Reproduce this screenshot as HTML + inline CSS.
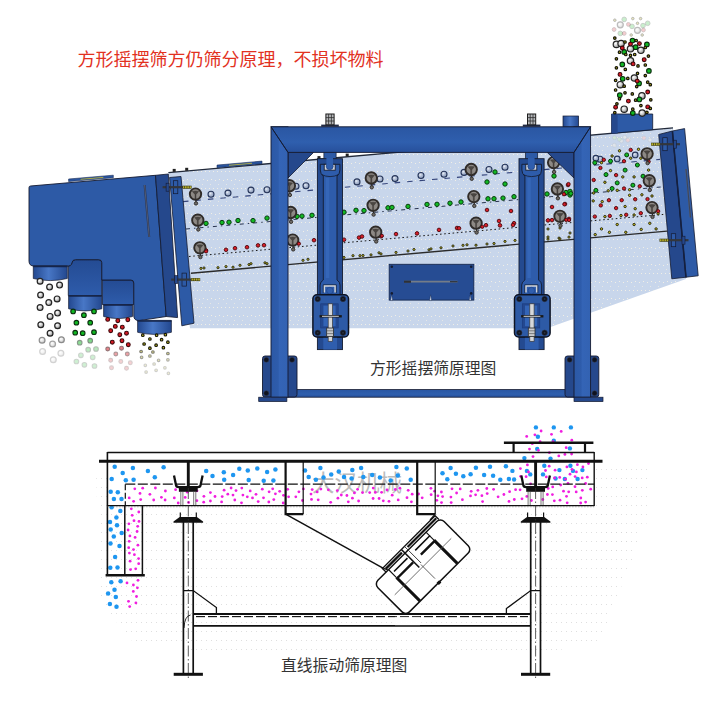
<!DOCTYPE html>
<html><head><meta charset="utf-8"><title>Screen principle diagram</title>
<style>html,body{margin:0;padding:0;background:#fff;font-family:"Liberation Sans",sans-serif;}svg{display:block}</style>
</head><body>
<svg width="718" height="704" viewBox="0 0 718 704">
<defs>
<linearGradient id="cyl" x1="0" x2="1" y1="0" y2="0"><stop offset="0" stop-color="#23488f"/><stop offset="0.45" stop-color="#4877c6"/><stop offset="1" stop-color="#23488f"/></linearGradient>
<linearGradient id="boxg" x1="0" x2="0" y1="0" y2="1"><stop offset="0" stop-color="#244b93"/><stop offset="1" stop-color="#2e5cab"/></linearGradient>
<linearGradient id="post" x1="0" x2="1" y1="0" y2="0"><stop offset="0" stop-color="#2c59a6"/><stop offset="0.42" stop-color="#2e5cab"/><stop offset="0.5" stop-color="#3464b6"/><stop offset="1" stop-color="#3362b2"/></linearGradient>
<linearGradient id="beam" x1="0" x2="0" y1="0" y2="1"><stop offset="0" stop-color="#2a56a2"/><stop offset="0.6" stop-color="#2f5fae"/><stop offset="1" stop-color="#27509b"/></linearGradient>
<linearGradient id="hang" x1="0" x2="1" y1="0" y2="0"><stop offset="0" stop-color="#244a90"/><stop offset="0.22" stop-color="#244a90"/><stop offset="0.25" stop-color="#3263b4"/><stop offset="0.78" stop-color="#2d5aa6"/><stop offset="0.8" stop-color="#244a90"/><stop offset="1" stop-color="#244a90"/></linearGradient>
<radialGradient id="gball" cx="0.38" cy="0.36" r="0.75"><stop offset="0" stop-color="#e9eef6"/><stop offset="0.35" stop-color="#b6c2d8"/><stop offset="1" stop-color="#8292b2"/></radialGradient>
<radialGradient id="wball" cx="0.38" cy="0.36" r="0.75"><stop offset="0" stop-color="#ffffff"/><stop offset="0.45" stop-color="#cfcfcf"/><stop offset="1" stop-color="#6e6e6e"/></radialGradient>
<pattern id="dots" width="8" height="17" patternUnits="userSpaceOnUse"><rect x="1" y="1" width="1" height="1" fill="#f1efe6"/><rect x="5" y="1" width="1" height="1" fill="#f1efe6"/><rect x="3" y="9" width="1" height="1" fill="#f1efe6"/><rect x="7" y="10" width="1" height="1" fill="#f1efe6"/><rect x="2" y="14" width="1" height="1" fill="#f1efe6" opacity="0.7"/></pattern>
<pattern id="gdots" width="5" height="9" patternUnits="userSpaceOnUse"><rect x="1" y="1" width="1" height="1" fill="#d4d4d4"/></pattern>
<linearGradient id="fade" x1="0" x2="0" y1="0" y2="1"><stop offset="0" stop-color="#fff" stop-opacity="0"/><stop offset="1" stop-color="#fff" stop-opacity="1"/></linearGradient>
</defs>
<title>方形摇摆筛原理图 / 直线振动筛原理图</title>
<desc>方形摇摆筛方仍筛分原理，不损坏物料。方形摇摆筛原理图。直线振动筛原理图。大汉机械</desc>
<rect width="718" height="704" fill="#fff"/>
<text x="77.5" y="66" font-size="18" fill="#e2321f" font-family="&quot;Liberation Sans&quot;, &quot;Noto Sans CJK SC&quot;, sans-serif">方形摇摆筛方仍筛分原理，不损坏物料</text>
<text x="370" y="374" font-size="15.8" fill="#333" font-family="&quot;Liberation Sans&quot;, &quot;Noto Sans CJK SC&quot;, sans-serif">方形摇摆筛原理图</text>
<text x="281" y="671" font-size="15.8" fill="#333" font-family="&quot;Liberation Sans&quot;, &quot;Noto Sans CJK SC&quot;, sans-serif">直线振动筛原理图</text>
<polygon points="168.4,172.6 673.0,127.9 686.0,279.0 547.0,328.2 190.0,328.2" fill="#c8d6eb"/>
<polygon points="168.4,172.6 673.0,127.9 686.0,279.0 547.0,328.2 190.0,328.2" fill="url(#dots)"/>
<line x1="168.4" y1="172.6" x2="673" y2="127.9" stroke="#222a3a" stroke-width="1.3"/>
<polygon points="217,167.7 262,163.7 262,161.1 217,165.1" fill="#2a55a0" stroke="#1a2c55" stroke-width="0.6"/>
<line x1="229" y1="165.3" x2="252" y2="163.3" stroke="#b9b13a" stroke-width="0.9"/>
<rect x="172.7" y="168.9" width="3" height="3" fill="#222"/>
<rect x="185.2" y="167.8" width="3" height="3" fill="#222"/>
<rect x="317.5" y="156.1" width="3" height="3" fill="#222"/>
<rect x="345.7" y="153.6" width="3" height="3" fill="#222"/>
<rect x="518.5" y="138.3" width="3" height="3" fill="#222"/>
<rect x="546.5" y="135.8" width="3" height="3" fill="#222"/>
<line x1="183" y1="201.6" x2="660" y2="159.4" stroke="#34447a" stroke-width="1.1" stroke-dasharray="5.5 7"/>
<line x1="186" y1="229.0" x2="663" y2="186.8" stroke="#2a3550" stroke-width="1" stroke-dasharray="4 4 1.5 4"/>
<line x1="189" y1="256.5" x2="665" y2="214.3" stroke="#1a1a1a" stroke-width="1" stroke-dasharray="1.6 2.6"/>
<line x1="190.9" y1="273.2" x2="667" y2="231.1" stroke="#2b2b2b" stroke-width="1.4"/>
<circle cx="211.0" cy="194.3" r="3.0" fill="url(#gball)" stroke="#27365a" stroke-width="1.1" opacity="1"/>
<circle cx="228.0" cy="193.1" r="3.0" fill="url(#gball)" stroke="#27365a" stroke-width="1.1" opacity="1"/>
<circle cx="251.0" cy="190.1" r="3.0" fill="url(#gball)" stroke="#27365a" stroke-width="1.1" opacity="1"/>
<circle cx="267.0" cy="189.8" r="3.0" fill="url(#gball)" stroke="#27365a" stroke-width="1.1" opacity="1"/>
<circle cx="296.0" cy="186.3" r="3.0" fill="url(#gball)" stroke="#27365a" stroke-width="1.1" opacity="1"/>
<circle cx="306.0" cy="185.8" r="3.0" fill="url(#gball)" stroke="#27365a" stroke-width="1.1" opacity="1"/>
<circle cx="357.0" cy="181.9" r="3.0" fill="url(#gball)" stroke="#27365a" stroke-width="1.1" opacity="1"/>
<circle cx="380.0" cy="179.0" r="3.0" fill="url(#gball)" stroke="#27365a" stroke-width="1.1" opacity="1"/>
<circle cx="395.0" cy="178.6" r="3.0" fill="url(#gball)" stroke="#27365a" stroke-width="1.1" opacity="1"/>
<circle cx="421.0" cy="175.5" r="3.0" fill="url(#gball)" stroke="#27365a" stroke-width="1.1" opacity="1"/>
<circle cx="444.0" cy="174.2" r="3.0" fill="url(#gball)" stroke="#27365a" stroke-width="1.1" opacity="1"/>
<circle cx="464.0" cy="172.4" r="3.0" fill="url(#gball)" stroke="#27365a" stroke-width="1.1" opacity="1"/>
<circle cx="489.0" cy="169.5" r="3.0" fill="url(#gball)" stroke="#27365a" stroke-width="1.1" opacity="1"/>
<circle cx="505.0" cy="167.2" r="3.0" fill="url(#gball)" stroke="#27365a" stroke-width="1.1" opacity="1"/>
<circle cx="571.0" cy="162.8" r="3.0" fill="url(#gball)" stroke="#27365a" stroke-width="1.1" opacity="1"/>
<circle cx="585.0" cy="161.4" r="3.0" fill="url(#gball)" stroke="#27365a" stroke-width="1.1" opacity="1"/>
<circle cx="600.0" cy="159.2" r="3.0" fill="url(#gball)" stroke="#27365a" stroke-width="1.1" opacity="1"/>
<circle cx="206.0" cy="223.4" r="2.2" fill="#12ba24" stroke="#0a3a10" stroke-width="1.0" opacity="1"/>
<circle cx="222.0" cy="222.5" r="2.2" fill="#12ba24" stroke="#0a3a10" stroke-width="1.0" opacity="1"/>
<circle cx="229.0" cy="222.2" r="2.2" fill="#12ba24" stroke="#0a3a10" stroke-width="1.0" opacity="1"/>
<circle cx="238.0" cy="220.5" r="2.2" fill="#12ba24" stroke="#0a3a10" stroke-width="1.0" opacity="1"/>
<circle cx="253.0" cy="220.6" r="2.2" fill="#12ba24" stroke="#0a3a10" stroke-width="1.0" opacity="1"/>
<circle cx="267.0" cy="218.1" r="2.2" fill="#12ba24" stroke="#0a3a10" stroke-width="1.0" opacity="1"/>
<circle cx="297.0" cy="216.4" r="2.2" fill="#12ba24" stroke="#0a3a10" stroke-width="1.0" opacity="1"/>
<circle cx="302.0" cy="216.1" r="2.2" fill="#12ba24" stroke="#0a3a10" stroke-width="1.0" opacity="1"/>
<circle cx="312.0" cy="215.3" r="2.2" fill="#12ba24" stroke="#0a3a10" stroke-width="1.0" opacity="1"/>
<circle cx="344.0" cy="212.2" r="2.2" fill="#12ba24" stroke="#0a3a10" stroke-width="1.0" opacity="1"/>
<circle cx="356.0" cy="210.3" r="2.2" fill="#12ba24" stroke="#0a3a10" stroke-width="1.0" opacity="1"/>
<circle cx="364.0" cy="210.6" r="2.2" fill="#12ba24" stroke="#0a3a10" stroke-width="1.0" opacity="1"/>
<circle cx="388.0" cy="207.8" r="2.2" fill="#12ba24" stroke="#0a3a10" stroke-width="1.0" opacity="1"/>
<circle cx="392.0" cy="207.4" r="2.2" fill="#12ba24" stroke="#0a3a10" stroke-width="1.0" opacity="1"/>
<circle cx="408.0" cy="206.4" r="2.2" fill="#12ba24" stroke="#0a3a10" stroke-width="1.0" opacity="1"/>
<circle cx="427.0" cy="204.4" r="2.2" fill="#12ba24" stroke="#0a3a10" stroke-width="1.0" opacity="1"/>
<circle cx="437.0" cy="204.3" r="2.2" fill="#12ba24" stroke="#0a3a10" stroke-width="1.0" opacity="1"/>
<circle cx="450.0" cy="203.2" r="2.2" fill="#12ba24" stroke="#0a3a10" stroke-width="1.0" opacity="1"/>
<circle cx="461.0" cy="202.0" r="2.2" fill="#12ba24" stroke="#0a3a10" stroke-width="1.0" opacity="1"/>
<circle cx="488.0" cy="198.8" r="2.2" fill="#12ba24" stroke="#0a3a10" stroke-width="1.0" opacity="1"/>
<circle cx="494.0" cy="198.7" r="2.2" fill="#12ba24" stroke="#0a3a10" stroke-width="1.0" opacity="1"/>
<circle cx="503.0" cy="198.1" r="2.2" fill="#12ba24" stroke="#0a3a10" stroke-width="1.0" opacity="1"/>
<circle cx="514.0" cy="196.7" r="2.2" fill="#12ba24" stroke="#0a3a10" stroke-width="1.0" opacity="1"/>
<circle cx="547.0" cy="194.0" r="2.2" fill="#12ba24" stroke="#0a3a10" stroke-width="1.0" opacity="1"/>
<circle cx="566.0" cy="192.5" r="2.2" fill="#12ba24" stroke="#0a3a10" stroke-width="1.0" opacity="1"/>
<circle cx="570.0" cy="191.4" r="2.2" fill="#12ba24" stroke="#0a3a10" stroke-width="1.0" opacity="1"/>
<circle cx="487.0" cy="182.0" r="2.2" fill="#12ba24" stroke="#0a3a10" stroke-width="1.0" opacity="1"/>
<circle cx="495.0" cy="172.0" r="2.2" fill="#12ba24" stroke="#0a3a10" stroke-width="1.0" opacity="1"/>
<circle cx="505.0" cy="184.0" r="2.2" fill="#12ba24" stroke="#0a3a10" stroke-width="1.0" opacity="1"/>
<circle cx="554.0" cy="176.0" r="2.2" fill="#12ba24" stroke="#0a3a10" stroke-width="1.0" opacity="1"/>
<circle cx="570.0" cy="195.0" r="2.2" fill="#12ba24" stroke="#0a3a10" stroke-width="1.0" opacity="1"/>
<circle cx="206.0" cy="250.4" r="1.8" fill="#d81e28" stroke="#4c090d" stroke-width="0.9" opacity="1"/>
<circle cx="226.0" cy="249.8" r="1.8" fill="#d81e28" stroke="#4c090d" stroke-width="0.9" opacity="1"/>
<circle cx="235.0" cy="248.2" r="1.8" fill="#d81e28" stroke="#4c090d" stroke-width="0.9" opacity="1"/>
<circle cx="247.0" cy="247.2" r="1.8" fill="#d81e28" stroke="#4c090d" stroke-width="0.9" opacity="1"/>
<circle cx="258.0" cy="245.4" r="1.8" fill="#d81e28" stroke="#4c090d" stroke-width="0.9" opacity="1"/>
<circle cx="264.0" cy="245.2" r="1.8" fill="#d81e28" stroke="#4c090d" stroke-width="0.9" opacity="1"/>
<circle cx="298.0" cy="243.3" r="1.8" fill="#d81e28" stroke="#4c090d" stroke-width="0.9" opacity="1"/>
<circle cx="314.0" cy="240.2" r="1.8" fill="#d81e28" stroke="#4c090d" stroke-width="0.9" opacity="1"/>
<circle cx="344.0" cy="239.7" r="1.8" fill="#d81e28" stroke="#4c090d" stroke-width="0.9" opacity="1"/>
<circle cx="359.0" cy="237.6" r="1.8" fill="#d81e28" stroke="#4c090d" stroke-width="0.9" opacity="1"/>
<circle cx="362.0" cy="236.5" r="1.8" fill="#d81e28" stroke="#4c090d" stroke-width="0.9" opacity="1"/>
<circle cx="381.0" cy="236.3" r="1.8" fill="#d81e28" stroke="#4c090d" stroke-width="0.9" opacity="1"/>
<circle cx="396.0" cy="234.1" r="1.8" fill="#d81e28" stroke="#4c090d" stroke-width="0.9" opacity="1"/>
<circle cx="417.0" cy="233.4" r="1.8" fill="#d81e28" stroke="#4c090d" stroke-width="0.9" opacity="1"/>
<circle cx="439.0" cy="229.9" r="1.8" fill="#d81e28" stroke="#4c090d" stroke-width="0.9" opacity="1"/>
<circle cx="457.0" cy="228.0" r="1.8" fill="#d81e28" stroke="#4c090d" stroke-width="0.9" opacity="1"/>
<circle cx="459.0" cy="228.3" r="1.8" fill="#d81e28" stroke="#4c090d" stroke-width="0.9" opacity="1"/>
<circle cx="486.0" cy="225.2" r="1.8" fill="#d81e28" stroke="#4c090d" stroke-width="0.9" opacity="1"/>
<circle cx="500.0" cy="225.4" r="1.8" fill="#d81e28" stroke="#4c090d" stroke-width="0.9" opacity="1"/>
<circle cx="514.0" cy="223.2" r="1.8" fill="#d81e28" stroke="#4c090d" stroke-width="0.9" opacity="1"/>
<circle cx="548.0" cy="220.4" r="1.8" fill="#d81e28" stroke="#4c090d" stroke-width="0.9" opacity="1"/>
<circle cx="552.0" cy="220.1" r="1.8" fill="#d81e28" stroke="#4c090d" stroke-width="0.9" opacity="1"/>
<circle cx="569.0" cy="218.9" r="1.8" fill="#d81e28" stroke="#4c090d" stroke-width="0.9" opacity="1"/>
<circle cx="487.0" cy="210.0" r="1.8" fill="#d81e28" stroke="#4c090d" stroke-width="0.9" opacity="1"/>
<circle cx="511.0" cy="211.0" r="1.8" fill="#d81e28" stroke="#4c090d" stroke-width="0.9" opacity="1"/>
<circle cx="513.0" cy="225.0" r="1.8" fill="#d81e28" stroke="#4c090d" stroke-width="0.9" opacity="1"/>
<circle cx="499.0" cy="221.0" r="1.8" fill="#d81e28" stroke="#4c090d" stroke-width="0.9" opacity="1"/>
<circle cx="568.0" cy="185.0" r="1.8" fill="#d81e28" stroke="#4c090d" stroke-width="0.9" opacity="1"/>
<circle cx="565.0" cy="204.0" r="1.8" fill="#d81e28" stroke="#4c090d" stroke-width="0.9" opacity="1"/>
<circle cx="552.0" cy="207.0" r="1.8" fill="#d81e28" stroke="#4c090d" stroke-width="0.9" opacity="1"/>
<circle cx="201.0" cy="268.4" r="1.1" fill="#c9c01e" stroke="#1e1e0c" stroke-width="0.9" opacity="1"/>
<circle cx="204.0" cy="268.0" r="1.1" fill="#c9c01e" stroke="#1e1e0c" stroke-width="0.9" opacity="1"/>
<circle cx="218.0" cy="267.7" r="1.1" fill="#c9c01e" stroke="#1e1e0c" stroke-width="0.9" opacity="1"/>
<circle cx="226.0" cy="266.6" r="1.1" fill="#c9c01e" stroke="#1e1e0c" stroke-width="0.9" opacity="1"/>
<circle cx="233.0" cy="267.2" r="1.1" fill="#c9c01e" stroke="#1e1e0c" stroke-width="0.9" opacity="1"/>
<circle cx="240.0" cy="265.3" r="1.1" fill="#c9c01e" stroke="#1e1e0c" stroke-width="0.9" opacity="1"/>
<circle cx="249.0" cy="264.6" r="1.1" fill="#c9c01e" stroke="#1e1e0c" stroke-width="0.9" opacity="1"/>
<circle cx="251.0" cy="263.7" r="1.1" fill="#c9c01e" stroke="#1e1e0c" stroke-width="0.9" opacity="1"/>
<circle cx="265.0" cy="262.8" r="1.1" fill="#c9c01e" stroke="#1e1e0c" stroke-width="0.9" opacity="1"/>
<circle cx="267.0" cy="263.7" r="1.1" fill="#c9c01e" stroke="#1e1e0c" stroke-width="0.9" opacity="1"/>
<circle cx="303.0" cy="260.3" r="1.1" fill="#c9c01e" stroke="#1e1e0c" stroke-width="0.9" opacity="1"/>
<circle cx="308.0" cy="259.3" r="1.1" fill="#c9c01e" stroke="#1e1e0c" stroke-width="0.9" opacity="1"/>
<circle cx="344.0" cy="257.4" r="1.1" fill="#c9c01e" stroke="#1e1e0c" stroke-width="0.9" opacity="1"/>
<circle cx="353.0" cy="255.7" r="1.1" fill="#c9c01e" stroke="#1e1e0c" stroke-width="0.9" opacity="1"/>
<circle cx="360.0" cy="255.7" r="1.1" fill="#c9c01e" stroke="#1e1e0c" stroke-width="0.9" opacity="1"/>
<circle cx="363.0" cy="255.5" r="1.1" fill="#c9c01e" stroke="#1e1e0c" stroke-width="0.9" opacity="1"/>
<circle cx="371.0" cy="254.9" r="1.1" fill="#c9c01e" stroke="#1e1e0c" stroke-width="0.9" opacity="1"/>
<circle cx="379.0" cy="252.8" r="1.1" fill="#c9c01e" stroke="#1e1e0c" stroke-width="0.9" opacity="1"/>
<circle cx="381.0" cy="253.9" r="1.1" fill="#c9c01e" stroke="#1e1e0c" stroke-width="0.9" opacity="1"/>
<circle cx="396.0" cy="252.4" r="1.1" fill="#c9c01e" stroke="#1e1e0c" stroke-width="0.9" opacity="1"/>
<circle cx="408.0" cy="251.0" r="1.1" fill="#c9c01e" stroke="#1e1e0c" stroke-width="0.9" opacity="1"/>
<circle cx="414.0" cy="249.5" r="1.1" fill="#c9c01e" stroke="#1e1e0c" stroke-width="0.9" opacity="1"/>
<circle cx="429.0" cy="249.8" r="1.1" fill="#c9c01e" stroke="#1e1e0c" stroke-width="0.9" opacity="1"/>
<circle cx="431.0" cy="248.9" r="1.1" fill="#c9c01e" stroke="#1e1e0c" stroke-width="0.9" opacity="1"/>
<circle cx="441.0" cy="247.8" r="1.1" fill="#c9c01e" stroke="#1e1e0c" stroke-width="0.9" opacity="1"/>
<circle cx="453.0" cy="246.0" r="1.1" fill="#c9c01e" stroke="#1e1e0c" stroke-width="0.9" opacity="1"/>
<circle cx="463.0" cy="245.3" r="1.1" fill="#c9c01e" stroke="#1e1e0c" stroke-width="0.9" opacity="1"/>
<circle cx="467.0" cy="244.8" r="1.1" fill="#c9c01e" stroke="#1e1e0c" stroke-width="0.9" opacity="1"/>
<circle cx="476.0" cy="245.2" r="1.1" fill="#c9c01e" stroke="#1e1e0c" stroke-width="0.9" opacity="1"/>
<circle cx="487.0" cy="244.0" r="1.1" fill="#c9c01e" stroke="#1e1e0c" stroke-width="0.9" opacity="1"/>
<circle cx="494.0" cy="243.5" r="1.1" fill="#c9c01e" stroke="#1e1e0c" stroke-width="0.9" opacity="1"/>
<circle cx="505.0" cy="241.4" r="1.1" fill="#c9c01e" stroke="#1e1e0c" stroke-width="0.9" opacity="1"/>
<circle cx="515.0" cy="240.4" r="1.1" fill="#c9c01e" stroke="#1e1e0c" stroke-width="0.9" opacity="1"/>
<circle cx="548.0" cy="239.1" r="1.1" fill="#c9c01e" stroke="#1e1e0c" stroke-width="0.9" opacity="1"/>
<circle cx="559.0" cy="238.1" r="1.1" fill="#c9c01e" stroke="#1e1e0c" stroke-width="0.9" opacity="1"/>
<circle cx="569.0" cy="237.1" r="1.1" fill="#c9c01e" stroke="#1e1e0c" stroke-width="0.9" opacity="1"/>
<circle cx="548.0" cy="229.0" r="1.1" fill="#c9c01e" stroke="#1e1e0c" stroke-width="0.9" opacity="1"/>
<circle cx="560.0" cy="228.0" r="1.1" fill="#c9c01e" stroke="#1e1e0c" stroke-width="0.9" opacity="1"/>
<circle cx="548.0" cy="237.0" r="1.1" fill="#c9c01e" stroke="#1e1e0c" stroke-width="0.9" opacity="1"/>
<circle cx="560.0" cy="239.0" r="1.1" fill="#c9c01e" stroke="#1e1e0c" stroke-width="0.9" opacity="1"/>
<circle cx="570.0" cy="233.0" r="1.1" fill="#c9c01e" stroke="#1e1e0c" stroke-width="0.9" opacity="1"/>
<circle cx="595.9" cy="158.2" r="2.8" fill="url(#gball)" stroke="#27365a" stroke-width="1.1" opacity="1"/>
<circle cx="617.2" cy="158.9" r="2.8" fill="url(#gball)" stroke="#27365a" stroke-width="1.1" opacity="1"/>
<circle cx="635.2" cy="154.9" r="2.8" fill="url(#gball)" stroke="#27365a" stroke-width="1.1" opacity="1"/>
<circle cx="594.8" cy="162.7" r="2.0" fill="#12ba24" stroke="#0a3a10" stroke-width="1.0" opacity="1"/>
<circle cx="610.5" cy="161.2" r="2.0" fill="#12ba24" stroke="#0a3a10" stroke-width="1.0" opacity="1"/>
<circle cx="626.7" cy="154.9" r="2.0" fill="#12ba24" stroke="#0a3a10" stroke-width="1.0" opacity="1"/>
<circle cx="637.4" cy="165.0" r="2.0" fill="#12ba24" stroke="#0a3a10" stroke-width="1.0" opacity="1"/>
<circle cx="625.1" cy="170.1" r="2.0" fill="#12ba24" stroke="#0a3a10" stroke-width="1.0" opacity="1"/>
<circle cx="606.0" cy="174.6" r="2.0" fill="#12ba24" stroke="#0a3a10" stroke-width="1.0" opacity="1"/>
<circle cx="643.0" cy="176.2" r="2.0" fill="#12ba24" stroke="#0a3a10" stroke-width="1.0" opacity="1"/>
<circle cx="617.2" cy="182.9" r="2.0" fill="#12ba24" stroke="#0a3a10" stroke-width="1.0" opacity="1"/>
<circle cx="632.9" cy="185.2" r="2.0" fill="#12ba24" stroke="#0a3a10" stroke-width="1.0" opacity="1"/>
<circle cx="595.9" cy="190.3" r="2.0" fill="#12ba24" stroke="#0a3a10" stroke-width="1.0" opacity="1"/>
<circle cx="612.1" cy="188.5" r="2.0" fill="#12ba24" stroke="#0a3a10" stroke-width="1.0" opacity="1"/>
<circle cx="570.8" cy="193.5" r="2.0" fill="#12ba24" stroke="#0a3a10" stroke-width="1.0" opacity="1"/>
<circle cx="603.8" cy="159.8" r="1.7" fill="#d81e28" stroke="#4c090d" stroke-width="0.9" opacity="1"/>
<circle cx="624.0" cy="161.2" r="1.7" fill="#d81e28" stroke="#4c090d" stroke-width="0.9" opacity="1"/>
<circle cx="630.7" cy="149.9" r="1.7" fill="#d81e28" stroke="#4c090d" stroke-width="0.9" opacity="1"/>
<circle cx="648.6" cy="161.6" r="1.7" fill="#d81e28" stroke="#4c090d" stroke-width="0.9" opacity="1"/>
<circle cx="600.4" cy="167.9" r="1.7" fill="#d81e28" stroke="#4c090d" stroke-width="0.9" opacity="1"/>
<circle cx="616.1" cy="175.1" r="1.7" fill="#d81e28" stroke="#4c090d" stroke-width="0.9" opacity="1"/>
<circle cx="593.7" cy="180.0" r="1.7" fill="#d81e28" stroke="#4c090d" stroke-width="0.9" opacity="1"/>
<circle cx="568.5" cy="184.1" r="1.7" fill="#d81e28" stroke="#4c090d" stroke-width="0.9" opacity="1"/>
<circle cx="624.0" cy="188.5" r="1.7" fill="#d81e28" stroke="#4c090d" stroke-width="0.9" opacity="1"/>
<circle cx="639.7" cy="186.3" r="1.7" fill="#d81e28" stroke="#4c090d" stroke-width="0.9" opacity="1"/>
<circle cx="608.9" cy="200.2" r="1.7" fill="#d81e28" stroke="#4c090d" stroke-width="0.9" opacity="1"/>
<circle cx="621.7" cy="200.2" r="1.7" fill="#d81e28" stroke="#4c090d" stroke-width="0.9" opacity="1"/>
<circle cx="635.2" cy="199.3" r="1.7" fill="#d81e28" stroke="#4c090d" stroke-width="0.9" opacity="1"/>
<circle cx="647.5" cy="199.1" r="1.7" fill="#d81e28" stroke="#4c090d" stroke-width="0.9" opacity="1"/>
<circle cx="600.8" cy="205.4" r="1.7" fill="#d81e28" stroke="#4c090d" stroke-width="0.9" opacity="1"/>
<circle cx="616.1" cy="208.1" r="1.7" fill="#d81e28" stroke="#4c090d" stroke-width="0.9" opacity="1"/>
<circle cx="564.0" cy="194.2" r="1.7" fill="#d81e28" stroke="#4c090d" stroke-width="0.9" opacity="1"/>
<circle cx="564.5" cy="204.3" r="1.7" fill="#d81e28" stroke="#4c090d" stroke-width="0.9" opacity="1"/>
<circle cx="594.8" cy="216.6" r="1.7" fill="#d81e28" stroke="#4c090d" stroke-width="0.9" opacity="1"/>
<circle cx="609.8" cy="215.9" r="1.7" fill="#d81e28" stroke="#4c090d" stroke-width="0.9" opacity="1"/>
<circle cx="626.2" cy="214.8" r="1.7" fill="#d81e28" stroke="#4c090d" stroke-width="0.9" opacity="1"/>
<circle cx="640.8" cy="213.2" r="1.7" fill="#d81e28" stroke="#4c090d" stroke-width="0.9" opacity="1"/>
<circle cx="569.0" cy="220.0" r="1.7" fill="#d81e28" stroke="#4c090d" stroke-width="0.9" opacity="1"/>
<circle cx="619.5" cy="150.8" r="1.2" fill="#c9c01e" stroke="#1e1e0c" stroke-width="0.9" opacity="1"/>
<circle cx="638.5" cy="149.3" r="1.2" fill="#c9c01e" stroke="#1e1e0c" stroke-width="0.9" opacity="1"/>
<circle cx="612.1" cy="156.0" r="1.2" fill="#c9c01e" stroke="#1e1e0c" stroke-width="0.9" opacity="1"/>
<circle cx="630.7" cy="158.2" r="1.2" fill="#c9c01e" stroke="#1e1e0c" stroke-width="0.9" opacity="1"/>
<circle cx="640.8" cy="158.2" r="1.2" fill="#c9c01e" stroke="#1e1e0c" stroke-width="0.9" opacity="1"/>
<circle cx="601.5" cy="162.7" r="1.2" fill="#c9c01e" stroke="#1e1e0c" stroke-width="0.9" opacity="1"/>
<circle cx="610.5" cy="170.6" r="1.2" fill="#c9c01e" stroke="#1e1e0c" stroke-width="0.9" opacity="1"/>
<circle cx="622.8" cy="176.9" r="1.2" fill="#c9c01e" stroke="#1e1e0c" stroke-width="0.9" opacity="1"/>
<circle cx="634.1" cy="176.9" r="1.2" fill="#c9c01e" stroke="#1e1e0c" stroke-width="0.9" opacity="1"/>
<circle cx="648.6" cy="170.1" r="1.2" fill="#c9c01e" stroke="#1e1e0c" stroke-width="0.9" opacity="1"/>
<circle cx="604.9" cy="182.3" r="1.2" fill="#c9c01e" stroke="#1e1e0c" stroke-width="0.9" opacity="1"/>
<circle cx="629.6" cy="189.7" r="1.2" fill="#c9c01e" stroke="#1e1e0c" stroke-width="0.9" opacity="1"/>
<circle cx="593.7" cy="193.0" r="1.2" fill="#c9c01e" stroke="#1e1e0c" stroke-width="0.9" opacity="1"/>
<circle cx="608.2" cy="190.8" r="1.2" fill="#c9c01e" stroke="#1e1e0c" stroke-width="0.9" opacity="1"/>
<circle cx="617.2" cy="190.3" r="1.2" fill="#c9c01e" stroke="#1e1e0c" stroke-width="0.9" opacity="1"/>
<circle cx="629.6" cy="195.3" r="1.2" fill="#c9c01e" stroke="#1e1e0c" stroke-width="0.9" opacity="1"/>
<circle cx="641.9" cy="194.8" r="1.2" fill="#c9c01e" stroke="#1e1e0c" stroke-width="0.9" opacity="1"/>
<circle cx="652.0" cy="196.0" r="1.2" fill="#c9c01e" stroke="#1e1e0c" stroke-width="0.9" opacity="1"/>
<circle cx="593.2" cy="200.9" r="1.2" fill="#c9c01e" stroke="#1e1e0c" stroke-width="0.9" opacity="1"/>
<circle cx="602.2" cy="201.6" r="1.2" fill="#c9c01e" stroke="#1e1e0c" stroke-width="0.9" opacity="1"/>
<circle cx="625.1" cy="206.5" r="1.2" fill="#c9c01e" stroke="#1e1e0c" stroke-width="0.9" opacity="1"/>
<circle cx="635.2" cy="208.7" r="1.2" fill="#c9c01e" stroke="#1e1e0c" stroke-width="0.9" opacity="1"/>
<circle cx="604.9" cy="216.6" r="1.2" fill="#c9c01e" stroke="#1e1e0c" stroke-width="0.9" opacity="1"/>
<circle cx="621.0" cy="215.5" r="1.2" fill="#c9c01e" stroke="#1e1e0c" stroke-width="0.9" opacity="1"/>
<circle cx="634.1" cy="215.0" r="1.2" fill="#c9c01e" stroke="#1e1e0c" stroke-width="0.9" opacity="1"/>
<circle cx="658.1" cy="213.7" r="1.2" fill="#c9c01e" stroke="#1e1e0c" stroke-width="0.9" opacity="1"/>
<circle cx="617.2" cy="224.5" r="1.2" fill="#c9c01e" stroke="#1e1e0c" stroke-width="0.9" opacity="1"/>
<circle cx="634.1" cy="224.5" r="1.2" fill="#c9c01e" stroke="#1e1e0c" stroke-width="0.9" opacity="1"/>
<circle cx="649.8" cy="223.3" r="1.2" fill="#c9c01e" stroke="#1e1e0c" stroke-width="0.9" opacity="1"/>
<circle cx="601.5" cy="228.9" r="1.2" fill="#c9c01e" stroke="#1e1e0c" stroke-width="0.9" opacity="1"/>
<circle cx="609.4" cy="232.3" r="1.2" fill="#c9c01e" stroke="#1e1e0c" stroke-width="0.9" opacity="1"/>
<circle cx="625.8" cy="232.3" r="1.2" fill="#c9c01e" stroke="#1e1e0c" stroke-width="0.9" opacity="1"/>
<circle cx="641.2" cy="229.4" r="1.2" fill="#c9c01e" stroke="#1e1e0c" stroke-width="0.9" opacity="1"/>
<circle cx="656.1" cy="228.9" r="1.2" fill="#c9c01e" stroke="#1e1e0c" stroke-width="0.9" opacity="1"/>
<circle cx="595.2" cy="234.6" r="1.2" fill="#c9c01e" stroke="#1e1e0c" stroke-width="0.9" opacity="1"/>
<circle cx="621.3" cy="140.9" r="2.0" fill="#e4e8ec" stroke="#b8c2cc" stroke-width="0.5" opacity="0.8"/>
<circle cx="619.3" cy="139.2" r="2.0" fill="#cfe8d4" stroke="#b8c2cc" stroke-width="0.5" opacity="0.8"/>
<circle cx="628.8" cy="139.2" r="2.0" fill="#e4e8ec" stroke="#b8c2cc" stroke-width="0.5" opacity="0.8"/>
<circle cx="624.7" cy="137.3" r="2.0" fill="#e4e8ec" stroke="#b8c2cc" stroke-width="0.5" opacity="0.8"/>
<circle cx="650.0" cy="139.9" r="2.0" fill="#e4e8ec" stroke="#b8c2cc" stroke-width="0.5" opacity="0.8"/>
<circle cx="614.2" cy="145.2" r="2.0" fill="#e4e8ec" stroke="#b8c2cc" stroke-width="0.5" opacity="0.8"/>
<circle cx="643.9" cy="138.0" r="2.0" fill="#f0d0d4" stroke="#b8c2cc" stroke-width="0.5" opacity="0.8"/>
<circle cx="627.8" cy="140.3" r="2.0" fill="#f0d0d4" stroke="#b8c2cc" stroke-width="0.5" opacity="0.8"/>
<circle cx="614.5" cy="137.7" r="2.0" fill="#cfe8d4" stroke="#b8c2cc" stroke-width="0.5" opacity="0.8"/>
<line x1="195.8" y1="194.1" x2="196.0" y2="202.7" stroke="#2c2a28" stroke-width="1.2"/>
<circle cx="195.5" cy="194.1" r="5.7" fill="#8d8985" stroke="#302c29" stroke-width="1.9"/>
<path d="M192.4 191.4Q195.5 190.6 198.6 191.4L196.0 194.5V199.1H195.0V194.5Z" fill="#4a4642" stroke="#35312e" stroke-width="0.4"/>
<circle cx="196.0" cy="203.4" r="1.7" fill="#6e6a66" stroke="#2c2a28" stroke-width="0.9"/>
<line x1="198.10000000000002" y1="220.2" x2="198.3" y2="228.79999999999998" stroke="#2c2a28" stroke-width="1.2"/>
<circle cx="197.8" cy="220.2" r="5.7" fill="#8d8985" stroke="#302c29" stroke-width="1.9"/>
<path d="M194.70000000000002 217.5Q197.8 216.7 200.9 217.5L198.3 220.6V225.2H197.3V220.6Z" fill="#4a4642" stroke="#35312e" stroke-width="0.4"/>
<circle cx="198.3" cy="229.5" r="1.7" fill="#6e6a66" stroke="#2c2a28" stroke-width="0.9"/>
<line x1="200.20000000000002" y1="247.8" x2="200.4" y2="256.40000000000003" stroke="#2c2a28" stroke-width="1.2"/>
<circle cx="199.9" cy="247.8" r="5.7" fill="#8d8985" stroke="#302c29" stroke-width="1.9"/>
<path d="M196.8 245.10000000000002Q199.9 244.3 203.0 245.10000000000002L200.4 248.20000000000002V252.8H199.4V248.20000000000002Z" fill="#4a4642" stroke="#35312e" stroke-width="0.4"/>
<circle cx="200.4" cy="257.1" r="1.7" fill="#6e6a66" stroke="#2c2a28" stroke-width="0.9"/>
<line x1="289.7" y1="185.7" x2="289.9" y2="194.29999999999998" stroke="#2c2a28" stroke-width="1.2"/>
<circle cx="289.4" cy="185.7" r="5.7" fill="#8d8985" stroke="#302c29" stroke-width="1.9"/>
<path d="M286.29999999999995 183.0Q289.4 182.2 292.5 183.0L289.9 186.1V190.7H288.9V186.1Z" fill="#4a4642" stroke="#35312e" stroke-width="0.4"/>
<circle cx="289.9" cy="195.0" r="1.7" fill="#6e6a66" stroke="#2c2a28" stroke-width="0.9"/>
<line x1="290.90000000000003" y1="212.5" x2="291.1" y2="221.1" stroke="#2c2a28" stroke-width="1.2"/>
<circle cx="290.6" cy="212.5" r="5.7" fill="#8d8985" stroke="#302c29" stroke-width="1.9"/>
<path d="M287.5 209.8Q290.6 209.0 293.70000000000005 209.8L291.1 212.9V217.5H290.1V212.9Z" fill="#4a4642" stroke="#35312e" stroke-width="0.4"/>
<circle cx="291.1" cy="221.8" r="1.7" fill="#6e6a66" stroke="#2c2a28" stroke-width="0.9"/>
<line x1="293.0" y1="240.1" x2="293.2" y2="248.7" stroke="#2c2a28" stroke-width="1.2"/>
<circle cx="292.7" cy="240.1" r="5.7" fill="#8d8985" stroke="#302c29" stroke-width="1.9"/>
<path d="M289.59999999999997 237.4Q292.7 236.6 295.8 237.4L293.2 240.5V245.1H292.2V240.5Z" fill="#4a4642" stroke="#35312e" stroke-width="0.4"/>
<circle cx="293.2" cy="249.4" r="1.7" fill="#6e6a66" stroke="#2c2a28" stroke-width="0.9"/>
<line x1="371.6" y1="178" x2="371.8" y2="186.6" stroke="#2c2a28" stroke-width="1.2"/>
<circle cx="371.3" cy="178" r="5.7" fill="#8d8985" stroke="#302c29" stroke-width="1.9"/>
<path d="M368.2 175.3Q371.3 174.5 374.40000000000003 175.3L371.8 178.4V183H370.8V178.4Z" fill="#4a4642" stroke="#35312e" stroke-width="0.4"/>
<circle cx="371.8" cy="187.3" r="1.7" fill="#6e6a66" stroke="#2c2a28" stroke-width="0.9"/>
<line x1="373.40000000000003" y1="205.3" x2="373.6" y2="213.9" stroke="#2c2a28" stroke-width="1.2"/>
<circle cx="373.1" cy="205.3" r="5.7" fill="#8d8985" stroke="#302c29" stroke-width="1.9"/>
<path d="M370.0 202.60000000000002Q373.1 201.8 376.20000000000005 202.60000000000002L373.6 205.70000000000002V210.3H372.6V205.70000000000002Z" fill="#4a4642" stroke="#35312e" stroke-width="0.4"/>
<circle cx="373.6" cy="214.60000000000002" r="1.7" fill="#6e6a66" stroke="#2c2a28" stroke-width="0.9"/>
<line x1="376.0" y1="232.2" x2="376.2" y2="240.79999999999998" stroke="#2c2a28" stroke-width="1.2"/>
<circle cx="375.7" cy="232.2" r="5.7" fill="#8d8985" stroke="#302c29" stroke-width="1.9"/>
<path d="M372.59999999999997 229.5Q375.7 228.7 378.8 229.5L376.2 232.6V237.2H375.2V232.6Z" fill="#4a4642" stroke="#35312e" stroke-width="0.4"/>
<circle cx="376.2" cy="241.5" r="1.7" fill="#6e6a66" stroke="#2c2a28" stroke-width="0.9"/>
<line x1="471.5" y1="169.5" x2="471.7" y2="178.1" stroke="#2c2a28" stroke-width="1.2"/>
<circle cx="471.2" cy="169.5" r="5.7" fill="#8d8985" stroke="#302c29" stroke-width="1.9"/>
<path d="M468.09999999999997 166.8Q471.2 166.0 474.3 166.8L471.7 169.9V174.5H470.7V169.9Z" fill="#4a4642" stroke="#35312e" stroke-width="0.4"/>
<circle cx="471.7" cy="178.8" r="1.7" fill="#6e6a66" stroke="#2c2a28" stroke-width="0.9"/>
<line x1="474.1" y1="196.6" x2="474.3" y2="205.2" stroke="#2c2a28" stroke-width="1.2"/>
<circle cx="473.8" cy="196.6" r="5.7" fill="#8d8985" stroke="#302c29" stroke-width="1.9"/>
<path d="M470.7 193.9Q473.8 193.1 476.90000000000003 193.9L474.3 197.0V201.6H473.3V197.0Z" fill="#4a4642" stroke="#35312e" stroke-width="0.4"/>
<circle cx="474.3" cy="205.9" r="1.7" fill="#6e6a66" stroke="#2c2a28" stroke-width="0.9"/>
<line x1="476.40000000000003" y1="223.2" x2="476.6" y2="231.79999999999998" stroke="#2c2a28" stroke-width="1.2"/>
<circle cx="476.1" cy="223.2" r="5.7" fill="#8d8985" stroke="#302c29" stroke-width="1.9"/>
<path d="M473.0 220.5Q476.1 219.7 479.20000000000005 220.5L476.6 223.6V228.2H475.6V223.6Z" fill="#4a4642" stroke="#35312e" stroke-width="0.4"/>
<circle cx="476.6" cy="232.5" r="1.7" fill="#6e6a66" stroke="#2c2a28" stroke-width="0.9"/>
<line x1="553.9" y1="162.6" x2="554.1" y2="171.2" stroke="#2c2a28" stroke-width="1.2"/>
<circle cx="553.6" cy="162.6" r="5.7" fill="#8d8985" stroke="#302c29" stroke-width="1.9"/>
<path d="M550.5 159.9Q553.6 159.1 556.7 159.9L554.1 163.0V167.6H553.1V163.0Z" fill="#4a4642" stroke="#35312e" stroke-width="0.4"/>
<circle cx="554.1" cy="171.9" r="1.7" fill="#6e6a66" stroke="#2c2a28" stroke-width="0.9"/>
<line x1="557.6999999999999" y1="189" x2="557.9" y2="197.6" stroke="#2c2a28" stroke-width="1.2"/>
<circle cx="557.4" cy="189" r="5.7" fill="#8d8985" stroke="#302c29" stroke-width="1.9"/>
<path d="M554.3 186.3Q557.4 185.5 560.5 186.3L557.9 189.4V194H556.9V189.4Z" fill="#4a4642" stroke="#35312e" stroke-width="0.4"/>
<circle cx="557.9" cy="198.3" r="1.7" fill="#6e6a66" stroke="#2c2a28" stroke-width="0.9"/>
<line x1="560.3" y1="216.3" x2="560.5" y2="224.9" stroke="#2c2a28" stroke-width="1.2"/>
<circle cx="560" cy="216.3" r="5.7" fill="#8d8985" stroke="#302c29" stroke-width="1.9"/>
<path d="M556.9 213.60000000000002Q560 212.8 563.1 213.60000000000002L560.5 216.70000000000002V221.3H559.5V216.70000000000002Z" fill="#4a4642" stroke="#35312e" stroke-width="0.4"/>
<circle cx="560.5" cy="225.60000000000002" r="1.7" fill="#6e6a66" stroke="#2c2a28" stroke-width="0.9"/>
<line x1="647.4" y1="153.8" x2="647.6" y2="162.4" stroke="#2c2a28" stroke-width="1.2"/>
<circle cx="647.1" cy="153.8" r="5.7" fill="#8d8985" stroke="#302c29" stroke-width="1.9"/>
<path d="M644.0 151.10000000000002Q647.1 150.3 650.2 151.10000000000002L647.6 154.20000000000002V158.8H646.6V154.20000000000002Z" fill="#4a4642" stroke="#35312e" stroke-width="0.4"/>
<circle cx="647.6" cy="163.10000000000002" r="1.7" fill="#6e6a66" stroke="#2c2a28" stroke-width="0.9"/>
<line x1="649.5999999999999" y1="180.7" x2="649.8" y2="189.29999999999998" stroke="#2c2a28" stroke-width="1.2"/>
<circle cx="649.3" cy="180.7" r="5.7" fill="#8d8985" stroke="#302c29" stroke-width="1.9"/>
<path d="M646.1999999999999 178.0Q649.3 177.2 652.4 178.0L649.8 181.1V185.7H648.8V181.1Z" fill="#4a4642" stroke="#35312e" stroke-width="0.4"/>
<circle cx="649.8" cy="190.0" r="1.7" fill="#6e6a66" stroke="#2c2a28" stroke-width="0.9"/>
<line x1="652.3" y1="207.6" x2="652.5" y2="216.2" stroke="#2c2a28" stroke-width="1.2"/>
<circle cx="652" cy="207.6" r="5.7" fill="#8d8985" stroke="#302c29" stroke-width="1.9"/>
<path d="M648.9 204.9Q652 204.1 655.1 204.9L652.5 208.0V212.6H651.5V208.0Z" fill="#4a4642" stroke="#35312e" stroke-width="0.4"/>
<circle cx="652.5" cy="216.9" r="1.7" fill="#6e6a66" stroke="#2c2a28" stroke-width="0.9"/>
<circle cx="206.1" cy="251.4" r="1.6" fill="#d81e28" stroke="#4c090d" stroke-width="0.9" opacity="1"/>
<circle cx="298.9" cy="243.7" r="1.6" fill="#d81e28" stroke="#4c090d" stroke-width="0.9" opacity="1"/>
<circle cx="381.9" cy="235.8" r="1.6" fill="#d81e28" stroke="#4c090d" stroke-width="0.9" opacity="1"/>
<circle cx="482.3" cy="226.8" r="1.6" fill="#d81e28" stroke="#4c090d" stroke-width="0.9" opacity="1"/>
<circle cx="566.2" cy="219.9" r="1.6" fill="#d81e28" stroke="#4c090d" stroke-width="0.9" opacity="1"/>
<circle cx="658.2" cy="211.2" r="1.6" fill="#d81e28" stroke="#4c090d" stroke-width="0.9" opacity="1"/>
<rect x="389.2" y="264.3" width="84.6" height="35.8" fill="#264c93" stroke="#17294f" stroke-width="0.9"/>
<path d="M390.6 300.6L391.6 294.8L392.6 300.6Z" fill="#dfe6f2" stroke="#17294f" stroke-width="0.4"/>
<path d="M429.6 300.6L430.6 294.8L431.6 300.6Z" fill="#dfe6f2" stroke="#17294f" stroke-width="0.4"/>
<path d="M469.2 300.6L470.2 294.8L471.2 300.6Z" fill="#dfe6f2" stroke="#17294f" stroke-width="0.4"/>
<line x1="404" y1="281.7" x2="457.5" y2="281.7" stroke="#747c88" stroke-width="1.7"/>
<line x1="404" y1="281.7" x2="411" y2="281.7" stroke="#2c3038" stroke-width="2.2"/>
<line x1="450" y1="281.7" x2="457.5" y2="281.7" stroke="#2c3038" stroke-width="1.2"/>
<circle cx="391.8" cy="266.8" r="1.3" fill="#141c30"/>
<circle cx="471.2" cy="266.8" r="1.3" fill="#141c30"/>
<circle cx="391.8" cy="293.4" r="1.3" fill="#141c30"/>
<circle cx="471.2" cy="293.4" r="1.3" fill="#141c30"/>
<polygon points="658.7,134.5 672.4,131 686,277.2 671.8,278.8" fill="#25488c" stroke="#141a30" stroke-width="0.8"/>
<polygon points="672.4,131 684.6,128.6 698.2,275.8 686,277.2" fill="#2d5aa6" stroke="#141a30" stroke-width="0.8"/>
<line x1="672.4" y1="131" x2="686" y2="277.2" stroke="#15203f" stroke-width="1.6"/>
<line x1="686" y1="169" x2="690.4" y2="217.5" stroke="#54607a" stroke-width="1.7"/>
<line x1="686" y1="169" x2="690.4" y2="217.5" stroke="#222a3c" stroke-width="0.5"/>
<rect x="662.8" y="137.7" width="4.4" height="13" fill="#2d5aa6" stroke="#141a30" stroke-width="0.7"/>
<line x1="652" y1="144.2" x2="680" y2="144.2" stroke="#33363c" stroke-width="2.2"/>
<line x1="651" y1="144.2" x2="660" y2="144.2" stroke="#3a3a18" stroke-width="3"/>
<line x1="651.4" y1="144.2" x2="659.6" y2="144.2" stroke="#b8b02a" stroke-width="2" stroke-dasharray="1.6 0.7"/>
<rect x="673.5" y="140.2" width="3" height="8" fill="#25488c" stroke="#141a30" stroke-width="0.6"/>
<rect x="671.3" y="233.7" width="4.4" height="13" fill="#2d5aa6" stroke="#141a30" stroke-width="0.7"/>
<line x1="660.5" y1="240.2" x2="688.5" y2="240.2" stroke="#33363c" stroke-width="2.2"/>
<line x1="659.5" y1="240.2" x2="668.5" y2="240.2" stroke="#3a3a18" stroke-width="3"/>
<line x1="659.9" y1="240.2" x2="668.1" y2="240.2" stroke="#b8b02a" stroke-width="2" stroke-dasharray="1.6 0.7"/>
<rect x="682.0" y="236.2" width="3" height="8" fill="#25488c" stroke="#141a30" stroke-width="0.6"/>
<path d="M68.3 266V295.5H101.8V262.7Q101.8 259.7 98.8 259.7H75.4Q72.4 259.7 72 262.7L71.4 264.3Q70.8 266 68.3 266Z" fill="url(#boxg)" stroke="#141a30" stroke-width="0.8"/>
<path d="M102.3 280H130.8Q133.8 280 133.8 283V304.5H102.3Z" fill="url(#boxg)" stroke="#141a30" stroke-width="0.8"/>
<path d="M29 187.6Q29 186.1 30.5 186L155.5 175.3L166.2 316.5L139 320.6Q134 320.6 133.8 316V283Q133.8 280 130.8 280H101.8V262.7Q101.8 259.7 98.8 259.7H75.4Q72.4 259.7 72 262.7L71.4 264.3Q70.8 266 68.3 266H34Q29 266 29 261Z" fill="#2d5aa6" stroke="#141a30" stroke-width="0.9"/>
<path d="M33.3 266H67.3V278.5Q50.3 282.7 33.3 278.5Z" fill="url(#cyl)" stroke="#141a30" stroke-width="0.7"/>
<line x1="33.3" y1="266.6" x2="67.3" y2="266.6" stroke="#15244a" stroke-width="1.4"/>
<path d="M68.6 295.5H101.8V308.8Q85.19999999999999 313.0 68.6 308.8Z" fill="url(#cyl)" stroke="#141a30" stroke-width="0.7"/>
<line x1="68.6" y1="296.1" x2="101.8" y2="296.1" stroke="#15244a" stroke-width="1.4"/>
<path d="M103.6 304.5H132.5V316.5Q118.05 320.7 103.6 316.5Z" fill="url(#cyl)" stroke="#141a30" stroke-width="0.7"/>
<line x1="103.6" y1="305.1" x2="132.5" y2="305.1" stroke="#15244a" stroke-width="1.4"/>
<path d="M137.6 320.4H171.4V332.3Q154.5 336.5 137.6 332.3Z" fill="url(#cyl)" stroke="#141a30" stroke-width="0.7"/>
<line x1="137.6" y1="321.0" x2="171.4" y2="321.0" stroke="#15244a" stroke-width="1.4"/>
<polygon points="68.6,181.6 113.3,177.8 113.3,175.2 68.6,179.0" fill="#2a55a0" stroke="#1a2c55" stroke-width="0.6"/>
<line x1="80.6" y1="179.3" x2="103.3" y2="177.4" stroke="#b9b13a" stroke-width="0.9"/>
<line x1="144.6" y1="185" x2="149.2" y2="237" stroke="#2b3550" stroke-width="2"/>
<line x1="144.6" y1="185" x2="149.2" y2="237" stroke="#6c7690" stroke-width="0.6"/>
<polygon points="155.5,175.3 168.3,174 177.6,317.6 166.2,316.5" fill="#25488c" stroke="#141a30" stroke-width="0.8"/>
<polygon points="169.6,177.5 181,176.5 194,323.2 181.8,325.8" fill="#2d5aa6" stroke="#141a30" stroke-width="0.8"/>
<rect x="173.4" y="180.7" width="4.4" height="13" fill="#2d5aa6" stroke="#141a30" stroke-width="0.7"/>
<line x1="190.6" y1="187.2" x2="162.6" y2="187.2" stroke="#33363c" stroke-width="2.2"/>
<line x1="191.6" y1="187.2" x2="182.6" y2="187.2" stroke="#3a3a18" stroke-width="3"/>
<line x1="191.2" y1="187.2" x2="183.0" y2="187.2" stroke="#b8b02a" stroke-width="2" stroke-dasharray="1.6 0.7"/>
<rect x="166.1" y="183.2" width="3" height="8" fill="#25488c" stroke="#141a30" stroke-width="0.6"/>
<rect x="182.0" y="273.1" width="4.4" height="13" fill="#2d5aa6" stroke="#141a30" stroke-width="0.7"/>
<line x1="199.2" y1="279.6" x2="171.2" y2="279.6" stroke="#33363c" stroke-width="2.2"/>
<line x1="200.2" y1="279.6" x2="191.2" y2="279.6" stroke="#3a3a18" stroke-width="3"/>
<line x1="199.79999999999998" y1="279.6" x2="191.6" y2="279.6" stroke="#b8b02a" stroke-width="2" stroke-dasharray="1.6 0.7"/>
<rect x="174.7" y="275.6" width="3" height="8" fill="#25488c" stroke="#141a30" stroke-width="0.6"/>
<circle cx="40.1" cy="281.3" r="2.9" fill="url(#wball)" stroke="#242424" stroke-width="1.2" opacity="1"/>
<circle cx="49.6" cy="287.1" r="2.9" fill="url(#wball)" stroke="#242424" stroke-width="1.2" opacity="1"/>
<circle cx="59.6" cy="285.1" r="2.9" fill="url(#wball)" stroke="#242424" stroke-width="1.2" opacity="1"/>
<circle cx="40.6" cy="295.1" r="2.9" fill="url(#wball)" stroke="#242424" stroke-width="1.2" opacity="1"/>
<circle cx="48.8" cy="302.6" r="2.9" fill="url(#wball)" stroke="#242424" stroke-width="1.2" opacity="1"/>
<circle cx="57.1" cy="298.9" r="2.9" fill="url(#wball)" stroke="#242424" stroke-width="1.2" opacity="1"/>
<circle cx="40.1" cy="307.6" r="2.9" fill="url(#wball)" stroke="#242424" stroke-width="1.2" opacity="1"/>
<circle cx="50.1" cy="316.4" r="2.9" fill="url(#wball)" stroke="#242424" stroke-width="1.2" opacity="1"/>
<circle cx="57.6" cy="313.1" r="2.9" fill="url(#wball)" stroke="#242424" stroke-width="1.2" opacity="1"/>
<circle cx="40.8" cy="324.7" r="2.9" fill="url(#wball)" stroke="#242424" stroke-width="1.2" opacity="1"/>
<circle cx="57.6" cy="325.7" r="2.9" fill="url(#wball)" stroke="#242424" stroke-width="1.2" opacity="1"/>
<circle cx="50.1" cy="333.2" r="2.9" fill="url(#wball)" stroke="#242424" stroke-width="1.2" opacity="1"/>
<circle cx="42.1" cy="340.2" r="2.9" fill="url(#wball)" stroke="#242424" stroke-width="1.2" opacity="0.51"/>
<circle cx="52.6" cy="344.0" r="2.9" fill="url(#wball)" stroke="#242424" stroke-width="1.2" opacity="0.41"/>
<circle cx="61.4" cy="339.7" r="2.9" fill="url(#wball)" stroke="#242424" stroke-width="1.2" opacity="0.53"/>
<circle cx="42.6" cy="351.5" r="2.9" fill="url(#wball)" stroke="#242424" stroke-width="1.2" opacity="0.2"/>
<circle cx="60.9" cy="353.3" r="2.9" fill="url(#wball)" stroke="#242424" stroke-width="1.2" opacity="0.2"/>
<circle cx="53.3" cy="359.8" r="2.9" fill="url(#wball)" stroke="#242424" stroke-width="1.2" opacity="0.2"/>
<circle cx="73.1" cy="311.4" r="2.3" fill="#10b822" stroke="#0a2e0e" stroke-width="1.1" opacity="1"/>
<circle cx="83.9" cy="315.2" r="2.3" fill="#10b822" stroke="#0a2e0e" stroke-width="1.1" opacity="1"/>
<circle cx="94.0" cy="311.4" r="2.3" fill="#10b822" stroke="#0a2e0e" stroke-width="1.1" opacity="1"/>
<circle cx="76.4" cy="322.7" r="2.3" fill="#10b822" stroke="#0a2e0e" stroke-width="1.1" opacity="1"/>
<circle cx="90.2" cy="322.7" r="2.3" fill="#10b822" stroke="#0a2e0e" stroke-width="1.1" opacity="1"/>
<circle cx="75.2" cy="332.7" r="2.3" fill="#10b822" stroke="#0a2e0e" stroke-width="1.1" opacity="1"/>
<circle cx="82.7" cy="333.2" r="2.3" fill="#10b822" stroke="#0a2e0e" stroke-width="1.1" opacity="1"/>
<circle cx="94.0" cy="332.2" r="2.3" fill="#10b822" stroke="#0a2e0e" stroke-width="1.1" opacity="1"/>
<circle cx="79.7" cy="342.7" r="2.3" fill="#10b822" stroke="#0a2e0e" stroke-width="1.1" opacity="0.48"/>
<circle cx="90.2" cy="340.7" r="2.3" fill="#10b822" stroke="#0a2e0e" stroke-width="1.1" opacity="0.53"/>
<circle cx="88.2" cy="349.7" r="2.3" fill="#10b822" stroke="#0a2e0e" stroke-width="1.1" opacity="0.28"/>
<circle cx="96.0" cy="349.0" r="2.3" fill="#10b822" stroke="#0a2e0e" stroke-width="1.1" opacity="0.3"/>
<circle cx="80.9" cy="355.3" r="2.3" fill="#10b822" stroke="#0a2e0e" stroke-width="1.1" opacity="0.2"/>
<circle cx="92.7" cy="357.3" r="2.3" fill="#10b822" stroke="#0a2e0e" stroke-width="1.1" opacity="0.2"/>
<circle cx="76.4" cy="361.5" r="2.3" fill="#10b822" stroke="#0a2e0e" stroke-width="1.1" opacity="0.2"/>
<circle cx="84.4" cy="364.8" r="2.3" fill="#10b822" stroke="#0a2e0e" stroke-width="1.1" opacity="0.2"/>
<circle cx="94.5" cy="366.0" r="2.3" fill="#10b822" stroke="#0a2e0e" stroke-width="1.1" opacity="0.2"/>
<circle cx="107.7" cy="319.4" r="1.9" fill="#d51a24" stroke="#3c070a" stroke-width="1.1" opacity="1"/>
<circle cx="117.8" cy="320.7" r="1.9" fill="#d51a24" stroke="#3c070a" stroke-width="1.1" opacity="1"/>
<circle cx="127.8" cy="319.7" r="1.9" fill="#d51a24" stroke="#3c070a" stroke-width="1.1" opacity="1"/>
<circle cx="115.3" cy="326.4" r="1.9" fill="#d51a24" stroke="#3c070a" stroke-width="1.1" opacity="1"/>
<circle cx="122.3" cy="327.2" r="1.9" fill="#d51a24" stroke="#3c070a" stroke-width="1.1" opacity="1"/>
<circle cx="110.7" cy="330.7" r="1.9" fill="#d51a24" stroke="#3c070a" stroke-width="1.1" opacity="1"/>
<circle cx="119.8" cy="334.7" r="1.9" fill="#d51a24" stroke="#3c070a" stroke-width="1.1" opacity="1"/>
<circle cx="126.5" cy="333.2" r="1.9" fill="#d51a24" stroke="#3c070a" stroke-width="1.1" opacity="1"/>
<circle cx="112.3" cy="342.2" r="1.9" fill="#d51a24" stroke="#3c070a" stroke-width="1.1" opacity="1"/>
<circle cx="122.0" cy="340.7" r="1.9" fill="#d51a24" stroke="#3c070a" stroke-width="1.1" opacity="1"/>
<circle cx="128.3" cy="344.7" r="1.9" fill="#d51a24" stroke="#3c070a" stroke-width="1.1" opacity="1"/>
<circle cx="107.7" cy="349.0" r="1.9" fill="#d51a24" stroke="#3c070a" stroke-width="1.1" opacity="0.55"/>
<circle cx="121.5" cy="348.2" r="1.9" fill="#d51a24" stroke="#3c070a" stroke-width="1.1" opacity="0.57"/>
<circle cx="115.8" cy="354.0" r="1.9" fill="#d51a24" stroke="#3c070a" stroke-width="1.1" opacity="0.41"/>
<circle cx="127.3" cy="354.0" r="1.9" fill="#d51a24" stroke="#3c070a" stroke-width="1.1" opacity="0.41"/>
<circle cx="110.7" cy="360.3" r="1.9" fill="#d51a24" stroke="#3c070a" stroke-width="1.1" opacity="0.23"/>
<circle cx="120.8" cy="361.5" r="1.9" fill="#d51a24" stroke="#3c070a" stroke-width="1.1" opacity="0.2"/>
<circle cx="130.3" cy="362.8" r="1.9" fill="#d51a24" stroke="#3c070a" stroke-width="1.1" opacity="0.2"/>
<circle cx="111.5" cy="367.8" r="1.9" fill="#d51a24" stroke="#3c070a" stroke-width="1.1" opacity="0.2"/>
<circle cx="126.5" cy="368.3" r="1.9" fill="#d51a24" stroke="#3c070a" stroke-width="1.1" opacity="0.2"/>
<circle cx="142.8" cy="335.2" r="1.3" fill="#c4bb1c" stroke="#15150a" stroke-width="1.1" opacity="1"/>
<circle cx="156.6" cy="335.2" r="1.3" fill="#c4bb1c" stroke="#15150a" stroke-width="1.1" opacity="1"/>
<circle cx="165.4" cy="334.7" r="1.3" fill="#c4bb1c" stroke="#15150a" stroke-width="1.1" opacity="1"/>
<circle cx="149.9" cy="339.0" r="1.3" fill="#c4bb1c" stroke="#15150a" stroke-width="1.1" opacity="1"/>
<circle cx="161.6" cy="339.7" r="1.3" fill="#c4bb1c" stroke="#15150a" stroke-width="1.1" opacity="1"/>
<circle cx="144.1" cy="344.0" r="1.3" fill="#c4bb1c" stroke="#15150a" stroke-width="1.1" opacity="1"/>
<circle cx="156.1" cy="345.2" r="1.3" fill="#c4bb1c" stroke="#15150a" stroke-width="1.1" opacity="1"/>
<circle cx="167.9" cy="342.2" r="1.3" fill="#c4bb1c" stroke="#15150a" stroke-width="1.1" opacity="1"/>
<circle cx="149.9" cy="348.2" r="1.3" fill="#c4bb1c" stroke="#15150a" stroke-width="1.1" opacity="1"/>
<circle cx="163.4" cy="347.7" r="1.3" fill="#c4bb1c" stroke="#15150a" stroke-width="1.1" opacity="1"/>
<circle cx="141.1" cy="351.5" r="1.3" fill="#c4bb1c" stroke="#15150a" stroke-width="1.1" opacity="0.57"/>
<circle cx="152.9" cy="352.0" r="1.3" fill="#c4bb1c" stroke="#15150a" stroke-width="1.1" opacity="0.56"/>
<circle cx="167.9" cy="353.5" r="1.3" fill="#c4bb1c" stroke="#15150a" stroke-width="1.1" opacity="0.51"/>
<circle cx="141.6" cy="357.3" r="1.3" fill="#c4bb1c" stroke="#15150a" stroke-width="1.1" opacity="0.41"/>
<circle cx="149.9" cy="356.0" r="1.3" fill="#c4bb1c" stroke="#15150a" stroke-width="1.1" opacity="0.44"/>
<circle cx="158.6" cy="360.3" r="1.3" fill="#c4bb1c" stroke="#15150a" stroke-width="1.1" opacity="0.32"/>
<circle cx="167.9" cy="359.8" r="1.3" fill="#c4bb1c" stroke="#15150a" stroke-width="1.1" opacity="0.33"/>
<circle cx="145.3" cy="365.3" r="1.3" fill="#c4bb1c" stroke="#15150a" stroke-width="1.1" opacity="0.2"/>
<circle cx="154.1" cy="364.0" r="1.3" fill="#c4bb1c" stroke="#15150a" stroke-width="1.1" opacity="0.21"/>
<circle cx="164.9" cy="367.8" r="1.3" fill="#c4bb1c" stroke="#15150a" stroke-width="1.1" opacity="0.2"/>
<circle cx="146.1" cy="372.1" r="1.3" fill="#c4bb1c" stroke="#15150a" stroke-width="1.1" opacity="0.2"/>
<circle cx="156.1" cy="370.3" r="1.3" fill="#c4bb1c" stroke="#15150a" stroke-width="1.1" opacity="0.2"/>
<circle cx="168.4" cy="373.3" r="1.3" fill="#c4bb1c" stroke="#15150a" stroke-width="1.1" opacity="0.2"/>
<polygon points="611.6,114 652.7,114 652.7,129.7 611.6,133.4" fill="#2d5aa6" stroke="#141a30" stroke-width="0.8"/>
<rect x="611.6" y="114" width="6" height="19.4" fill="#25488c"/>
<rect x="563" y="116" width="15.6" height="11" fill="url(#cyl)" stroke="#141a30" stroke-width="0.7"/>
<circle cx="616.4" cy="44.4" r="3.2" fill="url(#wball)" stroke="#242424" stroke-width="1.2" opacity="1"/>
<circle cx="621.1" cy="43.6" r="3.2" fill="url(#wball)" stroke="#242424" stroke-width="1.2" opacity="1"/>
<circle cx="630.5" cy="48.8" r="3.2" fill="url(#wball)" stroke="#242424" stroke-width="1.2" opacity="1"/>
<circle cx="640.9" cy="50.3" r="3.2" fill="url(#wball)" stroke="#242424" stroke-width="1.2" opacity="1"/>
<circle cx="630.5" cy="60.8" r="3.2" fill="url(#wball)" stroke="#242424" stroke-width="1.2" opacity="1"/>
<circle cx="634.4" cy="78.0" r="3.2" fill="url(#wball)" stroke="#242424" stroke-width="1.2" opacity="1"/>
<circle cx="620.3" cy="84.7" r="3.2" fill="url(#wball)" stroke="#242424" stroke-width="1.2" opacity="1"/>
<circle cx="641.9" cy="95.9" r="3.2" fill="url(#wball)" stroke="#242424" stroke-width="1.2" opacity="1"/>
<circle cx="624.2" cy="109.2" r="3.2" fill="url(#wball)" stroke="#242424" stroke-width="1.2" opacity="1"/>
<circle cx="642.2" cy="113.1" r="3.2" fill="url(#wball)" stroke="#242424" stroke-width="1.2" opacity="1"/>
<circle cx="632.5" cy="40.5" r="2.3" fill="#10b822" stroke="#0a2e0e" stroke-width="1.1" opacity="1"/>
<circle cx="646.9" cy="44.4" r="2.3" fill="#10b822" stroke="#0a2e0e" stroke-width="1.1" opacity="1"/>
<circle cx="635.6" cy="47.2" r="2.3" fill="#10b822" stroke="#0a2e0e" stroke-width="1.1" opacity="1"/>
<circle cx="624.2" cy="51.9" r="2.3" fill="#10b822" stroke="#0a2e0e" stroke-width="1.1" opacity="1"/>
<circle cx="622.3" cy="64.4" r="2.3" fill="#10b822" stroke="#0a2e0e" stroke-width="1.1" opacity="1"/>
<circle cx="648.9" cy="70.9" r="2.3" fill="#10b822" stroke="#0a2e0e" stroke-width="1.1" opacity="1"/>
<circle cx="622.7" cy="78.8" r="2.3" fill="#10b822" stroke="#0a2e0e" stroke-width="1.1" opacity="1"/>
<circle cx="639.1" cy="83.4" r="2.3" fill="#10b822" stroke="#0a2e0e" stroke-width="1.1" opacity="1"/>
<circle cx="619.8" cy="95.2" r="2.3" fill="#10b822" stroke="#0a2e0e" stroke-width="1.1" opacity="1"/>
<circle cx="639.4" cy="99.4" r="2.3" fill="#10b822" stroke="#0a2e0e" stroke-width="1.1" opacity="1"/>
<circle cx="632.8" cy="113.1" r="2.3" fill="#10b822" stroke="#0a2e0e" stroke-width="1.1" opacity="1"/>
<circle cx="630.5" cy="44.1" r="1.9" fill="#d51a24" stroke="#3c070a" stroke-width="1.1" opacity="1"/>
<circle cx="639.4" cy="43.6" r="1.9" fill="#d51a24" stroke="#3c070a" stroke-width="1.1" opacity="1"/>
<circle cx="622.3" cy="48.0" r="1.9" fill="#d51a24" stroke="#3c070a" stroke-width="1.1" opacity="1"/>
<circle cx="644.2" cy="59.7" r="1.9" fill="#d51a24" stroke="#3c070a" stroke-width="1.1" opacity="1"/>
<circle cx="633.1" cy="63.9" r="1.9" fill="#d51a24" stroke="#3c070a" stroke-width="1.1" opacity="1"/>
<circle cx="620.0" cy="74.4" r="1.9" fill="#d51a24" stroke="#3c070a" stroke-width="1.1" opacity="1"/>
<circle cx="637.2" cy="81.1" r="1.9" fill="#d51a24" stroke="#3c070a" stroke-width="1.1" opacity="1"/>
<circle cx="647.7" cy="92.0" r="1.9" fill="#d51a24" stroke="#3c070a" stroke-width="1.1" opacity="1"/>
<circle cx="628.4" cy="101.1" r="1.9" fill="#d51a24" stroke="#3c070a" stroke-width="1.1" opacity="1"/>
<circle cx="615.6" cy="107.2" r="1.9" fill="#d51a24" stroke="#3c070a" stroke-width="1.1" opacity="1"/>
<circle cx="647.7" cy="106.9" r="1.9" fill="#d51a24" stroke="#3c070a" stroke-width="1.1" opacity="1"/>
<circle cx="614.8" cy="38.1" r="1.25" fill="#bdb41a" stroke="#12120a" stroke-width="1.2" opacity="1"/>
<circle cx="625.0" cy="42.0" r="1.25" fill="#bdb41a" stroke="#12120a" stroke-width="1.2" opacity="1"/>
<circle cx="636.2" cy="40.5" r="1.25" fill="#bdb41a" stroke="#12120a" stroke-width="1.2" opacity="1"/>
<circle cx="645.3" cy="47.5" r="1.25" fill="#bdb41a" stroke="#12120a" stroke-width="1.2" opacity="1"/>
<circle cx="619.5" cy="52.2" r="1.25" fill="#bdb41a" stroke="#12120a" stroke-width="1.2" opacity="1"/>
<circle cx="625.8" cy="54.5" r="1.25" fill="#bdb41a" stroke="#12120a" stroke-width="1.2" opacity="1"/>
<circle cx="630.5" cy="55.3" r="1.25" fill="#bdb41a" stroke="#12120a" stroke-width="1.2" opacity="1"/>
<circle cx="634.7" cy="54.5" r="1.25" fill="#bdb41a" stroke="#12120a" stroke-width="1.2" opacity="1"/>
<circle cx="616.4" cy="58.8" r="1.25" fill="#bdb41a" stroke="#12120a" stroke-width="1.2" opacity="1"/>
<circle cx="648.4" cy="56.1" r="1.25" fill="#bdb41a" stroke="#12120a" stroke-width="1.2" opacity="1"/>
<circle cx="616.4" cy="67.8" r="1.25" fill="#bdb41a" stroke="#12120a" stroke-width="1.2" opacity="1"/>
<circle cx="625.3" cy="69.4" r="1.25" fill="#bdb41a" stroke="#12120a" stroke-width="1.2" opacity="1"/>
<circle cx="638.0" cy="65.9" r="1.25" fill="#bdb41a" stroke="#12120a" stroke-width="1.2" opacity="1"/>
<circle cx="645.3" cy="65.0" r="1.25" fill="#bdb41a" stroke="#12120a" stroke-width="1.2" opacity="1"/>
<circle cx="637.5" cy="73.3" r="1.25" fill="#bdb41a" stroke="#12120a" stroke-width="1.2" opacity="1"/>
<circle cx="645.3" cy="75.6" r="1.25" fill="#bdb41a" stroke="#12120a" stroke-width="1.2" opacity="1"/>
<circle cx="627.8" cy="78.4" r="1.25" fill="#bdb41a" stroke="#12120a" stroke-width="1.2" opacity="1"/>
<circle cx="615.6" cy="80.3" r="1.25" fill="#bdb41a" stroke="#12120a" stroke-width="1.2" opacity="1"/>
<circle cx="624.2" cy="86.2" r="1.25" fill="#bdb41a" stroke="#12120a" stroke-width="1.2" opacity="1"/>
<circle cx="636.7" cy="86.6" r="1.25" fill="#bdb41a" stroke="#12120a" stroke-width="1.2" opacity="1"/>
<circle cx="647.7" cy="82.2" r="1.25" fill="#bdb41a" stroke="#12120a" stroke-width="1.2" opacity="1"/>
<circle cx="650.3" cy="84.7" r="1.25" fill="#bdb41a" stroke="#12120a" stroke-width="1.2" opacity="1"/>
<circle cx="615.6" cy="90.0" r="1.25" fill="#bdb41a" stroke="#12120a" stroke-width="1.2" opacity="1"/>
<circle cx="625.0" cy="92.8" r="1.25" fill="#bdb41a" stroke="#12120a" stroke-width="1.2" opacity="1"/>
<circle cx="632.3" cy="93.9" r="1.25" fill="#bdb41a" stroke="#12120a" stroke-width="1.2" opacity="1"/>
<circle cx="619.5" cy="98.8" r="1.25" fill="#bdb41a" stroke="#12120a" stroke-width="1.2" opacity="1"/>
<circle cx="635.6" cy="100.2" r="1.25" fill="#bdb41a" stroke="#12120a" stroke-width="1.2" opacity="1"/>
<circle cx="650.8" cy="99.8" r="1.25" fill="#bdb41a" stroke="#12120a" stroke-width="1.2" opacity="1"/>
<circle cx="616.9" cy="103.8" r="1.25" fill="#bdb41a" stroke="#12120a" stroke-width="1.2" opacity="1"/>
<circle cx="640.9" cy="105.6" r="1.25" fill="#bdb41a" stroke="#12120a" stroke-width="1.2" opacity="1"/>
<circle cx="632.8" cy="109.2" r="1.25" fill="#bdb41a" stroke="#12120a" stroke-width="1.2" opacity="1"/>
<circle cx="650.3" cy="108.4" r="1.25" fill="#bdb41a" stroke="#12120a" stroke-width="1.2" opacity="1"/>
<circle cx="614.8" cy="112.7" r="1.25" fill="#bdb41a" stroke="#12120a" stroke-width="1.2" opacity="1"/>
<circle cx="646.9" cy="112.3" r="1.25" fill="#bdb41a" stroke="#12120a" stroke-width="1.2" opacity="1"/>
<circle cx="620.3" cy="24.8" r="3.0" fill="url(#wball)" stroke="#242424" stroke-width="1.2" opacity="0.3"/>
<circle cx="637.5" cy="30.3" r="3.0" fill="url(#wball)" stroke="#242424" stroke-width="1.2" opacity="0.3"/>
<circle cx="624.2" cy="19.4" r="2.3" fill="#10b822" stroke="#0a2e0e" stroke-width="1.0" opacity="0.22"/>
<circle cx="632.0" cy="26.4" r="2.3" fill="#10b822" stroke="#0a2e0e" stroke-width="1.0" opacity="0.22"/>
<circle cx="643.0" cy="25.6" r="2.3" fill="#10b822" stroke="#0a2e0e" stroke-width="1.0" opacity="0.22"/>
<circle cx="647.7" cy="23.3" r="2.3" fill="#10b822" stroke="#0a2e0e" stroke-width="1.0" opacity="0.22"/>
<circle cx="620.3" cy="33.4" r="2.3" fill="#10b822" stroke="#0a2e0e" stroke-width="1.0" opacity="0.22"/>
<circle cx="614.1" cy="29.5" r="1.9" fill="#d51a24" stroke="#3c070a" stroke-width="1.0" opacity="0.22"/>
<circle cx="628.4" cy="24.4" r="1.9" fill="#d51a24" stroke="#3c070a" stroke-width="1.0" opacity="0.22"/>
<circle cx="624.2" cy="33.4" r="1.9" fill="#d51a24" stroke="#3c070a" stroke-width="1.0" opacity="0.22"/>
<circle cx="643.4" cy="30.0" r="1.9" fill="#d51a24" stroke="#3c070a" stroke-width="1.0" opacity="0.22"/>
<circle cx="614.8" cy="20.2" r="1.25" fill="#bdb41a" stroke="#12120a" stroke-width="1.0" opacity="0.3"/>
<circle cx="632.8" cy="18.6" r="1.25" fill="#bdb41a" stroke="#12120a" stroke-width="1.0" opacity="0.3"/>
<circle cx="640.6" cy="18.6" r="1.25" fill="#bdb41a" stroke="#12120a" stroke-width="1.0" opacity="0.3"/>
<circle cx="637.5" cy="23.3" r="1.25" fill="#bdb41a" stroke="#12120a" stroke-width="1.0" opacity="0.3"/>
<circle cx="631.2" cy="35.0" r="1.25" fill="#bdb41a" stroke="#12120a" stroke-width="1.0" opacity="0.3"/>
<circle cx="642.2" cy="35.0" r="1.25" fill="#bdb41a" stroke="#12120a" stroke-width="1.0" opacity="0.3"/>
<rect x="323.9" y="151" width="12.2" height="14" fill="#2d5aa6" stroke="#141c30" stroke-width="0.7"/>
<rect x="317.4" y="158.7" width="25.100000000000023" height="136.1" fill="#244a90" stroke="#141c30" stroke-width="0.9"/>
<path d="M320.3 164.3V170Q320.3 173.8 323.3 176V280Q320.1 282 320.1 285V294.4H340V285Q340 282 337 280V176Q339.9 173.8 339.9 170V164.3Z" fill="#2e5cab" stroke="#141c30" stroke-width="0.9"/>
<line x1="327.5" y1="178" x2="327.5" y2="278" stroke="#3566b8" stroke-width="3.5"/>
<rect x="324.2" y="164.3" width="11" height="5.9" fill="#cfd4dc" stroke="#141c30" stroke-width="0.9"/>
<circle cx="329.7" cy="166.2" r="3.5" fill="#2f5eae" stroke="#1d3a78" stroke-width="0.6"/>
<rect x="326.4" y="158" width="6.6" height="7" fill="#2f5eae"/>
<path d="M321.5 174.6Q330 178.6 338.7 174.6" fill="none" stroke="#141c30" stroke-width="0.8"/>
<path d="M324.3 292.6V285.9H335.2V292.6" fill="#2f5eae" stroke="#cfd4dc" stroke-width="1.7"/>
<path d="M323.2 293V284.8H336.3V293" fill="none" stroke="#141c30" stroke-width="0.7"/>
<circle cx="329.8" cy="290.6" r="3.3" fill="#2f5eae" stroke="#1d3a78" stroke-width="0.5"/>
<rect x="317.4" y="337" width="25.1" height="12.6" fill="#244a90" stroke="#141c30" stroke-width="0.9"/>
<rect x="323.3" y="337" width="13.7" height="12.6" fill="#2f5eae"/>
<rect x="312.9" y="294.8" width="35.6" height="42.2" rx="4" fill="#2d5aa6" stroke="#0e1424" stroke-width="1.5"/>
<rect x="320.7" y="303.8" width="17.5" height="24.2" fill="#234890" stroke="#1b3a7c" stroke-width="0.6"/>
<rect x="323.4" y="305.6" width="12.2" height="20.6" fill="#3364b6"/>
<rect x="328.2" y="303.8" width="4.3" height="37.5" fill="#d6d8db" stroke="#3a3a3a" stroke-width="0.7"/>
<rect x="326.7" y="328" width="6.7" height="8.4" fill="#c8cacd" stroke="#2a2a2a" stroke-width="0.8"/>
<path d="M326.7 330.8H333.4M326.7 333.6H333.4" stroke="#4a4a4a" stroke-width="0.6"/>
<line x1="319.5" y1="316.3" x2="341.8" y2="316.3" stroke="#1a1a1a" stroke-width="2.4"/>
<line x1="322" y1="316.3" x2="338.8" y2="316.3" stroke="#d0d2d5" stroke-width="1.0"/>
<circle cx="317.7" cy="299" r="2.7" fill="#10141f" stroke="#2c3242" stroke-width="0.6"/>
<circle cx="317.7" cy="299" r="1" fill="#2a2f3c"/>
<circle cx="343" cy="299" r="2.7" fill="#10141f" stroke="#2c3242" stroke-width="0.6"/>
<circle cx="343" cy="299" r="1" fill="#2a2f3c"/>
<circle cx="317.7" cy="332.8" r="2.7" fill="#10141f" stroke="#2c3242" stroke-width="0.6"/>
<circle cx="317.7" cy="332.8" r="1" fill="#2a2f3c"/>
<circle cx="343" cy="332.8" r="2.7" fill="#10141f" stroke="#2c3242" stroke-width="0.6"/>
<circle cx="343" cy="332.8" r="1" fill="#2a2f3c"/>
<rect x="525.5" y="151" width="12.2" height="14" fill="#2d5aa6" stroke="#141c30" stroke-width="0.7"/>
<rect x="519.0" y="158.7" width="25.100000000000023" height="136.1" fill="#244a90" stroke="#141c30" stroke-width="0.9"/>
<path d="M521.9 164.3V170Q521.9 173.8 524.9 176V280Q521.7 282 521.7 285V294.4H541.6V285Q541.6 282 538.6 280V176Q541.5 173.8 541.5 170V164.3Z" fill="#2e5cab" stroke="#141c30" stroke-width="0.9"/>
<line x1="529.1" y1="178" x2="529.1" y2="278" stroke="#3566b8" stroke-width="3.5"/>
<rect x="525.8000000000001" y="164.3" width="11" height="5.9" fill="#cfd4dc" stroke="#141c30" stroke-width="0.9"/>
<circle cx="531.3000000000001" cy="166.2" r="3.5" fill="#2f5eae" stroke="#1d3a78" stroke-width="0.6"/>
<rect x="528.0" y="158" width="6.6" height="7" fill="#2f5eae"/>
<path d="M523.1 174.6Q531.6 178.6 540.3000000000001 174.6" fill="none" stroke="#141c30" stroke-width="0.8"/>
<path d="M525.9 292.6V285.9H536.8000000000001V292.6" fill="#2f5eae" stroke="#cfd4dc" stroke-width="1.7"/>
<path d="M524.8000000000001 293V284.8H537.9V293" fill="none" stroke="#141c30" stroke-width="0.7"/>
<circle cx="531.4" cy="290.6" r="3.3" fill="#2f5eae" stroke="#1d3a78" stroke-width="0.5"/>
<rect x="519.0" y="337" width="25.1" height="12.6" fill="#244a90" stroke="#141c30" stroke-width="0.9"/>
<rect x="524.9" y="337" width="13.7" height="12.6" fill="#2f5eae"/>
<rect x="514.5" y="294.8" width="35.6" height="42.2" rx="4" fill="#2d5aa6" stroke="#0e1424" stroke-width="1.5"/>
<rect x="522.3000000000001" y="303.8" width="17.5" height="24.2" fill="#234890" stroke="#1b3a7c" stroke-width="0.6"/>
<rect x="525.0" y="305.6" width="12.2" height="20.6" fill="#3364b6"/>
<rect x="529.8000000000001" y="303.8" width="4.3" height="37.5" fill="#d6d8db" stroke="#3a3a3a" stroke-width="0.7"/>
<rect x="528.3000000000001" y="328" width="6.7" height="8.4" fill="#c8cacd" stroke="#2a2a2a" stroke-width="0.8"/>
<path d="M528.3000000000001 330.8H535.0M528.3000000000001 333.6H535.0" stroke="#4a4a4a" stroke-width="0.6"/>
<line x1="521.1" y1="316.3" x2="543.4" y2="316.3" stroke="#1a1a1a" stroke-width="2.4"/>
<line x1="523.6" y1="316.3" x2="540.4" y2="316.3" stroke="#d0d2d5" stroke-width="1.0"/>
<circle cx="519.3000000000001" cy="299" r="2.7" fill="#10141f" stroke="#2c3242" stroke-width="0.6"/>
<circle cx="519.3000000000001" cy="299" r="1" fill="#2a2f3c"/>
<circle cx="544.6" cy="299" r="2.7" fill="#10141f" stroke="#2c3242" stroke-width="0.6"/>
<circle cx="544.6" cy="299" r="1" fill="#2a2f3c"/>
<circle cx="519.3000000000001" cy="332.8" r="2.7" fill="#10141f" stroke="#2c3242" stroke-width="0.6"/>
<circle cx="519.3000000000001" cy="332.8" r="1" fill="#2a2f3c"/>
<circle cx="544.6" cy="332.8" r="2.7" fill="#10141f" stroke="#2c3242" stroke-width="0.6"/>
<circle cx="544.6" cy="332.8" r="1" fill="#2a2f3c"/>
<polygon points="288,152.4 313.6,152.4 288,178" fill="#25488c" stroke="#141a30" stroke-width="0.8"/>
<polygon points="547.2,152.4 574,152.4 574,178" fill="#25488c" stroke="#141a30" stroke-width="0.8"/>
<rect x="288" y="389.6" width="286" height="7.6" fill="url(#beam)" stroke="#141a30" stroke-width="0.8"/>
<rect x="262.5" y="356" width="34.5" height="41" rx="2.5" fill="#25488c" stroke="#141a30" stroke-width="0.9"/>
<rect x="565" y="356" width="33.8" height="41" rx="2.5" fill="#25488c" stroke="#141a30" stroke-width="0.9"/>
<rect x="271" y="126.8" width="17" height="270.4" fill="url(#post)" stroke="#141a30" stroke-width="0.9"/>
<rect x="574" y="126.8" width="16.6" height="270.4" fill="url(#post)" stroke="#141a30" stroke-width="0.9"/>
<polygon points="271,126.8 590.6,126.8 574,152.4 288,152.4" fill="url(#beam)" stroke="#141a30" stroke-width="0.9"/>
<line x1="271" y1="126.8" x2="288" y2="152.4" stroke="#141a30" stroke-width="0.8"/>
<line x1="590.6" y1="126.8" x2="574" y2="152.4" stroke="#141a30" stroke-width="0.8"/>
<rect x="258.7" y="397.2" width="28.2" height="4.4" fill="#25488c" stroke="#141a30" stroke-width="0.7"/>
<rect x="574" y="397.2" width="29" height="4.4" fill="#25488c" stroke="#141a30" stroke-width="0.7"/>
<circle cx="266.3" cy="359.8" r="2.5" fill="#0f1320" stroke="#3a3f4c" stroke-width="0.5"/>
<circle cx="292" cy="359.8" r="2.5" fill="#0f1320" stroke="#3a3f4c" stroke-width="0.5"/>
<circle cx="266.3" cy="393.2" r="2.5" fill="#0f1320" stroke="#3a3f4c" stroke-width="0.5"/>
<circle cx="569.6" cy="359.8" r="2.5" fill="#0f1320" stroke="#3a3f4c" stroke-width="0.5"/>
<circle cx="594.6" cy="359.8" r="2.5" fill="#0f1320" stroke="#3a3f4c" stroke-width="0.5"/>
<circle cx="594.6" cy="393.2" r="2.5" fill="#0f1320" stroke="#3a3f4c" stroke-width="0.5"/>
<rect x="321.2" y="124.6" width="17.6" height="2.2" fill="#222b44"/>
<rect x="325.9" y="114" width="8.2" height="10.8" fill="#b4b6b9" stroke="#1c1c1c" stroke-width="1"/>
<path d="M325.9 117.6H334.1M325.9 121H334.1M328.6 114V124.6M331.4 114V124.6" stroke="#2e2e2e" stroke-width="0.8" fill="none"/>
<rect x="522.8000000000001" y="124.6" width="17.6" height="2.2" fill="#222b44"/>
<rect x="527.5" y="114" width="8.2" height="10.8" fill="#b4b6b9" stroke="#1c1c1c" stroke-width="1"/>
<path d="M527.5 117.6H535.7M527.5 121H535.7M530.2 114V124.6M533.0 114V124.6" stroke="#2e2e2e" stroke-width="0.8" fill="none"/>
<polygon points="125,506 594,506 640,540 600,640 560,650 190,650 130,640 100,600 96,470 108,470 108,506" fill="url(#gdots)" opacity="0.75"/>
<polygon points="596,462 650,462 650,520 610,560 596,506" fill="url(#gdots)" opacity="0.7"/>
<text x="312" y="491" font-size="22.5" fill="#bcbcbc" font-family="&quot;Liberation Sans&quot;, &quot;Noto Sans CJK SC&quot;, sans-serif">大汉机械</text>
<circle cx="363.3" cy="477.1" r="2.25" fill="#1e96f0"/>
<circle cx="410.7" cy="479.8" r="2.25" fill="#1e96f0"/>
<circle cx="122.7" cy="473.0" r="2.25" fill="#1e96f0"/>
<circle cx="493.1" cy="475.7" r="2.25" fill="#1e96f0"/>
<circle cx="475.9" cy="467.7" r="2.25" fill="#1e96f0"/>
<circle cx="331.2" cy="474.6" r="2.25" fill="#1e96f0"/>
<circle cx="224.2" cy="479.7" r="2.25" fill="#1e96f0"/>
<circle cx="361.1" cy="467.9" r="2.25" fill="#1e96f0"/>
<circle cx="111.7" cy="479.1" r="2.25" fill="#1e96f0"/>
<circle cx="508.9" cy="479.1" r="2.25" fill="#1e96f0"/>
<circle cx="390.7" cy="480.5" r="2.25" fill="#1e96f0"/>
<circle cx="257.3" cy="468.5" r="2.25" fill="#1e96f0"/>
<circle cx="233.1" cy="475.0" r="2.25" fill="#1e96f0"/>
<circle cx="247.8" cy="470.6" r="2.25" fill="#1e96f0"/>
<circle cx="442.5" cy="473.2" r="2.25" fill="#1e96f0"/>
<circle cx="396.4" cy="466.9" r="2.25" fill="#1e96f0"/>
<circle cx="505.9" cy="466.3" r="2.25" fill="#1e96f0"/>
<circle cx="114.7" cy="466.7" r="2.25" fill="#1e96f0"/>
<circle cx="323.5" cy="477.6" r="2.25" fill="#1e96f0"/>
<circle cx="154.8" cy="477.2" r="2.25" fill="#1e96f0"/>
<circle cx="125.8" cy="480.2" r="2.25" fill="#1e96f0"/>
<circle cx="147.9" cy="471.1" r="2.25" fill="#1e96f0"/>
<circle cx="248.7" cy="479.9" r="2.25" fill="#1e96f0"/>
<circle cx="239.3" cy="468.7" r="2.25" fill="#1e96f0"/>
<circle cx="275.4" cy="469.6" r="2.25" fill="#1e96f0"/>
<circle cx="351.6" cy="478.4" r="2.25" fill="#1e96f0"/>
<circle cx="133.6" cy="479.7" r="2.25" fill="#1e96f0"/>
<circle cx="450.6" cy="468.0" r="2.25" fill="#1e96f0"/>
<circle cx="308.7" cy="476.9" r="2.25" fill="#1e96f0"/>
<circle cx="305.0" cy="470.4" r="2.25" fill="#1e96f0"/>
<circle cx="263.7" cy="480.8" r="2.25" fill="#1e96f0"/>
<circle cx="379.9" cy="477.4" r="2.25" fill="#1e96f0"/>
<circle cx="212.5" cy="476.1" r="2.25" fill="#1e96f0"/>
<circle cx="463.3" cy="476.3" r="2.25" fill="#1e96f0"/>
<circle cx="406.8" cy="468.6" r="2.25" fill="#1e96f0"/>
<circle cx="132.9" cy="468.0" r="2.25" fill="#1e96f0"/>
<circle cx="223.8" cy="472.2" r="2.25" fill="#1e96f0"/>
<circle cx="500.3" cy="479.7" r="2.25" fill="#1e96f0"/>
<circle cx="352.3" cy="469.9" r="2.25" fill="#1e96f0"/>
<circle cx="372.2" cy="475.1" r="2.25" fill="#1e96f0"/>
<circle cx="470.6" cy="474.2" r="2.25" fill="#1e96f0"/>
<circle cx="397.8" cy="475.5" r="2.25" fill="#1e96f0"/>
<circle cx="267.1" cy="471.9" r="2.25" fill="#1e96f0"/>
<circle cx="344.0" cy="477.1" r="2.25" fill="#1e96f0"/>
<circle cx="315.9" cy="479.7" r="2.25" fill="#1e96f0"/>
<circle cx="320.4" cy="468.0" r="2.25" fill="#1e96f0"/>
<circle cx="206.2" cy="471.0" r="2.25" fill="#1e96f0"/>
<circle cx="455.9" cy="473.8" r="2.25" fill="#1e96f0"/>
<circle cx="273.4" cy="480.6" r="2.25" fill="#1e96f0"/>
<circle cx="490.0" cy="466.8" r="2.25" fill="#1e96f0"/>
<circle cx="484.1" cy="475.0" r="2.25" fill="#1e96f0"/>
<circle cx="163.6" cy="467.2" r="2.25" fill="#1e96f0"/>
<circle cx="338.8" cy="471.4" r="2.25" fill="#1e96f0"/>
<circle cx="447.3" cy="479.2" r="2.25" fill="#1e96f0"/>
<circle cx="436.8" cy="500.3" r="1.4" fill="#f01ee0"/>
<circle cx="317.2" cy="491.9" r="1.4" fill="#f01ee0"/>
<circle cx="129.2" cy="497.9" r="1.4" fill="#f01ee0"/>
<circle cx="311.5" cy="499.4" r="1.4" fill="#f01ee0"/>
<circle cx="273.8" cy="499.6" r="1.4" fill="#f01ee0"/>
<circle cx="234.8" cy="500.0" r="1.4" fill="#f01ee0"/>
<circle cx="412.2" cy="494.2" r="1.4" fill="#f01ee0"/>
<circle cx="337.9" cy="498.2" r="1.4" fill="#f01ee0"/>
<circle cx="203.9" cy="496.3" r="1.4" fill="#f01ee0"/>
<circle cx="441.4" cy="492.0" r="1.4" fill="#f01ee0"/>
<circle cx="456.6" cy="493.0" r="1.4" fill="#f01ee0"/>
<circle cx="165.1" cy="500.0" r="1.4" fill="#f01ee0"/>
<circle cx="165.4" cy="491.0" r="1.4" fill="#f01ee0"/>
<circle cx="375.3" cy="492.4" r="1.4" fill="#f01ee0"/>
<circle cx="498.1" cy="496.8" r="1.4" fill="#f01ee0"/>
<circle cx="268.8" cy="502.0" r="1.4" fill="#f01ee0"/>
<circle cx="481.9" cy="495.7" r="1.4" fill="#f01ee0"/>
<circle cx="379.1" cy="498.5" r="1.4" fill="#f01ee0"/>
<circle cx="441.5" cy="502.6" r="1.4" fill="#f01ee0"/>
<circle cx="140.0" cy="493.4" r="1.4" fill="#f01ee0"/>
<circle cx="362.5" cy="492.6" r="1.4" fill="#f01ee0"/>
<circle cx="357.6" cy="489.3" r="1.4" fill="#f01ee0"/>
<circle cx="470.5" cy="495.9" r="1.4" fill="#f01ee0"/>
<circle cx="174.3" cy="497.9" r="1.4" fill="#f01ee0"/>
<circle cx="250.2" cy="490.9" r="1.4" fill="#f01ee0"/>
<circle cx="210.4" cy="501.0" r="1.4" fill="#f01ee0"/>
<circle cx="399.9" cy="488.2" r="1.4" fill="#f01ee0"/>
<circle cx="430.9" cy="488.3" r="1.4" fill="#f01ee0"/>
<circle cx="258.2" cy="501.6" r="1.4" fill="#f01ee0"/>
<circle cx="369.7" cy="492.6" r="1.4" fill="#f01ee0"/>
<circle cx="275.4" cy="493.8" r="1.4" fill="#f01ee0"/>
<circle cx="178.2" cy="503.0" r="1.4" fill="#f01ee0"/>
<circle cx="149.9" cy="494.3" r="1.4" fill="#f01ee0"/>
<circle cx="418.6" cy="494.0" r="1.4" fill="#f01ee0"/>
<circle cx="509.6" cy="491.7" r="1.4" fill="#f01ee0"/>
<circle cx="509.0" cy="501.4" r="1.4" fill="#f01ee0"/>
<circle cx="389.0" cy="501.3" r="1.4" fill="#f01ee0"/>
<circle cx="302.5" cy="500.5" r="1.4" fill="#f01ee0"/>
<circle cx="437.9" cy="495.8" r="1.4" fill="#f01ee0"/>
<circle cx="287.7" cy="489.3" r="1.4" fill="#f01ee0"/>
<circle cx="318.2" cy="499.8" r="1.4" fill="#f01ee0"/>
<circle cx="269.1" cy="491.8" r="1.4" fill="#f01ee0"/>
<circle cx="227.8" cy="494.2" r="1.4" fill="#f01ee0"/>
<circle cx="233.0" cy="495.1" r="1.4" fill="#f01ee0"/>
<circle cx="487.2" cy="493.6" r="1.4" fill="#f01ee0"/>
<circle cx="283.5" cy="495.3" r="1.4" fill="#f01ee0"/>
<circle cx="241.8" cy="488.1" r="1.4" fill="#f01ee0"/>
<circle cx="303.4" cy="488.9" r="1.4" fill="#f01ee0"/>
<circle cx="140.7" cy="499.6" r="1.4" fill="#f01ee0"/>
<circle cx="460.2" cy="488.9" r="1.4" fill="#f01ee0"/>
<circle cx="203.7" cy="502.2" r="1.4" fill="#f01ee0"/>
<circle cx="185.2" cy="497.4" r="1.4" fill="#f01ee0"/>
<circle cx="373.1" cy="498.5" r="1.4" fill="#f01ee0"/>
<circle cx="161.4" cy="497.3" r="1.4" fill="#f01ee0"/>
<circle cx="482.6" cy="501.6" r="1.4" fill="#f01ee0"/>
<circle cx="475.6" cy="494.8" r="1.4" fill="#f01ee0"/>
<circle cx="398.2" cy="499.9" r="1.4" fill="#f01ee0"/>
<circle cx="431.1" cy="494.7" r="1.4" fill="#f01ee0"/>
<circle cx="153.7" cy="500.0" r="1.4" fill="#f01ee0"/>
<circle cx="493.6" cy="489.3" r="1.4" fill="#f01ee0"/>
<circle cx="503.9" cy="494.5" r="1.4" fill="#f01ee0"/>
<circle cx="486.8" cy="488.5" r="1.4" fill="#f01ee0"/>
<circle cx="272.7" cy="488.8" r="1.4" fill="#f01ee0"/>
<circle cx="514.3" cy="499.5" r="1.4" fill="#f01ee0"/>
<circle cx="262.3" cy="489.2" r="1.4" fill="#f01ee0"/>
<circle cx="341.3" cy="495.0" r="1.4" fill="#f01ee0"/>
<circle cx="320.9" cy="489.1" r="1.4" fill="#f01ee0"/>
<circle cx="187.3" cy="492.2" r="1.4" fill="#f01ee0"/>
<circle cx="279.7" cy="491.3" r="1.4" fill="#f01ee0"/>
<circle cx="215.0" cy="496.5" r="1.4" fill="#f01ee0"/>
<circle cx="222.2" cy="496.6" r="1.4" fill="#f01ee0"/>
<circle cx="283.2" cy="503.0" r="1.4" fill="#f01ee0"/>
<circle cx="407.0" cy="497.7" r="1.4" fill="#f01ee0"/>
<circle cx="348.3" cy="501.8" r="1.4" fill="#f01ee0"/>
<circle cx="242.9" cy="495.1" r="1.4" fill="#f01ee0"/>
<circle cx="175.6" cy="489.7" r="1.4" fill="#f01ee0"/>
<circle cx="381.6" cy="492.3" r="1.4" fill="#f01ee0"/>
<circle cx="462.4" cy="499.7" r="1.4" fill="#f01ee0"/>
<circle cx="434.6" cy="491.2" r="1.4" fill="#f01ee0"/>
<circle cx="452.0" cy="488.8" r="1.4" fill="#f01ee0"/>
<circle cx="183.1" cy="488.1" r="1.4" fill="#f01ee0"/>
<circle cx="155.4" cy="488.0" r="1.4" fill="#f01ee0"/>
<circle cx="442.6" cy="496.6" r="1.4" fill="#f01ee0"/>
<circle cx="328.3" cy="489.8" r="1.4" fill="#f01ee0"/>
<circle cx="477.9" cy="490.3" r="1.4" fill="#f01ee0"/>
<circle cx="330.7" cy="502.3" r="1.4" fill="#f01ee0"/>
<circle cx="358.6" cy="501.0" r="1.4" fill="#f01ee0"/>
<circle cx="408.2" cy="490.3" r="1.4" fill="#f01ee0"/>
<circle cx="387.0" cy="489.9" r="1.4" fill="#f01ee0"/>
<circle cx="411.4" cy="501.8" r="1.4" fill="#f01ee0"/>
<circle cx="197.0" cy="490.8" r="1.4" fill="#f01ee0"/>
<circle cx="311.0" cy="494.1" r="1.4" fill="#f01ee0"/>
<circle cx="392.2" cy="495.2" r="1.4" fill="#f01ee0"/>
<circle cx="298.9" cy="491.8" r="1.4" fill="#f01ee0"/>
<circle cx="337.3" cy="490.6" r="1.4" fill="#f01ee0"/>
<circle cx="142.7" cy="488.2" r="1.4" fill="#f01ee0"/>
<circle cx="210.4" cy="492.6" r="1.4" fill="#f01ee0"/>
<circle cx="471.2" cy="491.3" r="1.4" fill="#f01ee0"/>
<circle cx="295.8" cy="496.8" r="1.4" fill="#f01ee0"/>
<circle cx="252.5" cy="497.9" r="1.4" fill="#f01ee0"/>
<circle cx="231.1" cy="488.0" r="1.4" fill="#f01ee0"/>
<circle cx="134.8" cy="488.8" r="1.4" fill="#f01ee0"/>
<circle cx="236.0" cy="490.6" r="1.4" fill="#f01ee0"/>
<circle cx="256.0" cy="494.3" r="1.4" fill="#f01ee0"/>
<circle cx="288.6" cy="496.8" r="1.4" fill="#f01ee0"/>
<circle cx="247.3" cy="496.8" r="1.4" fill="#f01ee0"/>
<circle cx="312.2" cy="489.6" r="1.4" fill="#f01ee0"/>
<circle cx="352.4" cy="498.2" r="1.4" fill="#f01ee0"/>
<circle cx="133.6" cy="501.3" r="1.4" fill="#f01ee0"/>
<circle cx="451.2" cy="502.6" r="1.4" fill="#f01ee0"/>
<circle cx="263.5" cy="497.8" r="1.4" fill="#f01ee0"/>
<circle cx="450.9" cy="497.1" r="1.4" fill="#f01ee0"/>
<circle cx="196.9" cy="500.7" r="1.4" fill="#f01ee0"/>
<circle cx="515.6" cy="489.7" r="1.4" fill="#f01ee0"/>
<circle cx="346.9" cy="495.5" r="1.4" fill="#f01ee0"/>
<circle cx="422.2" cy="497.8" r="1.4" fill="#f01ee0"/>
<circle cx="188.6" cy="502.5" r="1.4" fill="#f01ee0"/>
<circle cx="373.2" cy="488.1" r="1.4" fill="#f01ee0"/>
<circle cx="241.5" cy="502.8" r="1.4" fill="#f01ee0"/>
<circle cx="383.3" cy="500.8" r="1.4" fill="#f01ee0"/>
<circle cx="221.6" cy="501.9" r="1.4" fill="#f01ee0"/>
<circle cx="354.4" cy="492.9" r="1.4" fill="#f01ee0"/>
<circle cx="395.3" cy="489.5" r="1.4" fill="#f01ee0"/>
<circle cx="224.1" cy="490.2" r="1.4" fill="#f01ee0"/>
<circle cx="113.9" cy="499.0" r="2.25" fill="#1e96f0"/>
<circle cx="117.8" cy="492.2" r="2.25" fill="#1e96f0"/>
<circle cx="116.4" cy="517.4" r="2.25" fill="#1e96f0"/>
<circle cx="110.7" cy="529.6" r="2.25" fill="#1e96f0"/>
<circle cx="115.1" cy="557.1" r="2.25" fill="#1e96f0"/>
<circle cx="117.5" cy="567.5" r="2.25" fill="#1e96f0"/>
<circle cx="120.3" cy="510.9" r="2.25" fill="#1e96f0"/>
<circle cx="113.8" cy="536.4" r="2.25" fill="#1e96f0"/>
<circle cx="119.5" cy="546.1" r="2.25" fill="#1e96f0"/>
<circle cx="110.5" cy="543.5" r="2.25" fill="#1e96f0"/>
<circle cx="117.0" cy="525.2" r="2.25" fill="#1e96f0"/>
<circle cx="111.6" cy="507.3" r="2.25" fill="#1e96f0"/>
<circle cx="121.5" cy="499.0" r="2.25" fill="#1e96f0"/>
<circle cx="110.0" cy="522.0" r="2.25" fill="#1e96f0"/>
<circle cx="110.7" cy="491.8" r="2.25" fill="#1e96f0"/>
<circle cx="110.3" cy="567.8" r="2.25" fill="#1e96f0"/>
<circle cx="121.7" cy="533.0" r="2.25" fill="#1e96f0"/>
<circle cx="130.5" cy="569.6" r="1.4" fill="#f01ee0"/>
<circle cx="129.4" cy="553.1" r="1.4" fill="#f01ee0"/>
<circle cx="128.9" cy="523.8" r="1.4" fill="#f01ee0"/>
<circle cx="139.0" cy="521.4" r="1.4" fill="#f01ee0"/>
<circle cx="135.1" cy="537.4" r="1.4" fill="#f01ee0"/>
<circle cx="130.1" cy="561.2" r="1.4" fill="#f01ee0"/>
<circle cx="132.2" cy="515.3" r="1.4" fill="#f01ee0"/>
<circle cx="128.7" cy="547.7" r="1.4" fill="#f01ee0"/>
<circle cx="133.5" cy="549.6" r="1.4" fill="#f01ee0"/>
<circle cx="137.9" cy="545.2" r="1.4" fill="#f01ee0"/>
<circle cx="134.4" cy="554.7" r="1.4" fill="#f01ee0"/>
<circle cx="137.7" cy="526.3" r="1.4" fill="#f01ee0"/>
<circle cx="135.7" cy="568.8" r="1.4" fill="#f01ee0"/>
<circle cx="128.1" cy="530.0" r="1.4" fill="#f01ee0"/>
<circle cx="131.3" cy="508.8" r="1.4" fill="#f01ee0"/>
<circle cx="129.9" cy="535.9" r="1.4" fill="#f01ee0"/>
<circle cx="129.2" cy="541.3" r="1.4" fill="#f01ee0"/>
<circle cx="138.8" cy="512.0" r="1.4" fill="#f01ee0"/>
<circle cx="138.6" cy="558.6" r="1.4" fill="#f01ee0"/>
<circle cx="137.1" cy="531.5" r="1.4" fill="#f01ee0"/>
<circle cx="134.0" cy="520.7" r="1.4" fill="#f01ee0"/>
<circle cx="138.7" cy="563.7" r="1.4" fill="#f01ee0"/>
<circle cx="114.5" cy="589.8" r="2.25" fill="#1e96f0"/>
<circle cx="109.9" cy="604.1" r="2.25" fill="#1e96f0"/>
<circle cx="108.1" cy="593.6" r="2.25" fill="#1e96f0"/>
<circle cx="120.6" cy="581.3" r="2.25" fill="#1e96f0"/>
<circle cx="115.8" cy="596.9" r="2.25" fill="#1e96f0"/>
<circle cx="111.3" cy="582.2" r="2.25" fill="#1e96f0"/>
<circle cx="116.5" cy="606.8" r="2.25" fill="#1e96f0"/>
<circle cx="133.3" cy="591.4" r="1.4" fill="#f01ee0"/>
<circle cx="133.4" cy="585.0" r="1.4" fill="#f01ee0"/>
<circle cx="135.9" cy="602.9" r="1.4" fill="#f01ee0"/>
<circle cx="129.7" cy="606.6" r="1.4" fill="#f01ee0"/>
<circle cx="138.0" cy="580.3" r="1.4" fill="#f01ee0"/>
<circle cx="136.5" cy="596.5" r="1.4" fill="#f01ee0"/>
<circle cx="128.5" cy="601.3" r="1.4" fill="#f01ee0"/>
<circle cx="127.0" cy="582.9" r="1.4" fill="#f01ee0"/>
<circle cx="137.4" cy="587.8" r="1.4" fill="#f01ee0"/>
<circle cx="535.9" cy="427.4" r="2.2" fill="#1e96f0"/>
<circle cx="553.8" cy="427.4" r="2.2" fill="#1e96f0"/>
<circle cx="570.9" cy="427.4" r="2.2" fill="#1e96f0"/>
<circle cx="537.9" cy="436.8" r="2.2" fill="#1e96f0"/>
<circle cx="553.8" cy="440.7" r="2.2" fill="#1e96f0"/>
<circle cx="537.2" cy="448.9" r="2.2" fill="#1e96f0"/>
<circle cx="569.9" cy="448.4" r="2.2" fill="#1e96f0"/>
<circle cx="524.4" cy="458.1" r="2.2" fill="#1e96f0"/>
<circle cx="550.5" cy="458.6" r="2.2" fill="#1e96f0"/>
<circle cx="544.3" cy="465.7" r="2.2" fill="#1e96f0"/>
<circle cx="570.4" cy="465.7" r="2.2" fill="#1e96f0"/>
<circle cx="526.9" cy="470.9" r="2.2" fill="#1e96f0"/>
<circle cx="530.3" cy="474.4" r="2.2" fill="#1e96f0"/>
<circle cx="543.0" cy="474.4" r="2.2" fill="#1e96f0"/>
<circle cx="573.0" cy="470.9" r="2.2" fill="#1e96f0"/>
<circle cx="582.4" cy="470.1" r="2.2" fill="#1e96f0"/>
<circle cx="559.4" cy="470.1" r="2.2" fill="#1e96f0"/>
<circle cx="555.6" cy="478.5" r="2.2" fill="#1e96f0"/>
<circle cx="564.8" cy="479.0" r="2.2" fill="#1e96f0"/>
<circle cx="577.6" cy="479.0" r="2.2" fill="#1e96f0"/>
<circle cx="512.4" cy="470.9" r="2.2" fill="#1e96f0"/>
<circle cx="514.1" cy="479.5" r="2.2" fill="#1e96f0"/>
<circle cx="538.4" cy="450.3" r="1.4" fill="#f01ee0"/>
<circle cx="558.8" cy="455.9" r="1.4" fill="#f01ee0"/>
<circle cx="534.9" cy="434.8" r="1.4" fill="#f01ee0"/>
<circle cx="561.2" cy="431.4" r="1.4" fill="#f01ee0"/>
<circle cx="551.5" cy="434.3" r="1.4" fill="#f01ee0"/>
<circle cx="540.1" cy="441.7" r="1.4" fill="#f01ee0"/>
<circle cx="566.2" cy="447.7" r="1.4" fill="#f01ee0"/>
<circle cx="526.7" cy="436.4" r="1.4" fill="#f01ee0"/>
<circle cx="533.0" cy="456.6" r="1.4" fill="#f01ee0"/>
<circle cx="564.9" cy="454.4" r="1.4" fill="#f01ee0"/>
<circle cx="571.6" cy="454.0" r="1.4" fill="#f01ee0"/>
<circle cx="549.4" cy="452.7" r="1.4" fill="#f01ee0"/>
<circle cx="553.1" cy="441.6" r="1.4" fill="#f01ee0"/>
<circle cx="541.1" cy="431.0" r="1.4" fill="#f01ee0"/>
<circle cx="532.3" cy="443.7" r="1.4" fill="#f01ee0"/>
<circle cx="529.5" cy="449.1" r="1.4" fill="#f01ee0"/>
<circle cx="571.8" cy="440.2" r="1.4" fill="#f01ee0"/>
<circle cx="588.5" cy="463.5" r="1.4" fill="#f01ee0"/>
<circle cx="572.0" cy="469.3" r="1.4" fill="#f01ee0"/>
<circle cx="582.3" cy="490.3" r="1.4" fill="#f01ee0"/>
<circle cx="580.7" cy="503.0" r="1.4" fill="#f01ee0"/>
<circle cx="570.0" cy="474.2" r="1.4" fill="#f01ee0"/>
<circle cx="580.8" cy="498.0" r="1.4" fill="#f01ee0"/>
<circle cx="576.4" cy="471.9" r="1.4" fill="#f01ee0"/>
<circle cx="585.6" cy="483.5" r="1.4" fill="#f01ee0"/>
<circle cx="549.2" cy="466.2" r="1.4" fill="#f01ee0"/>
<circle cx="559.7" cy="477.4" r="1.4" fill="#f01ee0"/>
<circle cx="560.0" cy="500.2" r="1.4" fill="#f01ee0"/>
<circle cx="565.5" cy="479.2" r="1.4" fill="#f01ee0"/>
<circle cx="554.3" cy="500.8" r="1.4" fill="#f01ee0"/>
<circle cx="520.4" cy="468.6" r="1.4" fill="#f01ee0"/>
<circle cx="531.4" cy="500.5" r="1.4" fill="#f01ee0"/>
<circle cx="568.7" cy="491.8" r="1.4" fill="#f01ee0"/>
<circle cx="582.9" cy="467.0" r="1.4" fill="#f01ee0"/>
<circle cx="527.4" cy="464.9" r="1.4" fill="#f01ee0"/>
<circle cx="555.1" cy="470.2" r="1.4" fill="#f01ee0"/>
<circle cx="587.3" cy="477.2" r="1.4" fill="#f01ee0"/>
<circle cx="554.5" cy="478.0" r="1.4" fill="#f01ee0"/>
<circle cx="522.0" cy="498.8" r="1.4" fill="#f01ee0"/>
<circle cx="575.0" cy="486.7" r="1.4" fill="#f01ee0"/>
<circle cx="543.0" cy="488.9" r="1.4" fill="#f01ee0"/>
<circle cx="546.3" cy="476.9" r="1.4" fill="#f01ee0"/>
<circle cx="563.5" cy="491.2" r="1.4" fill="#f01ee0"/>
<circle cx="520.1" cy="489.8" r="1.4" fill="#f01ee0"/>
<circle cx="542.8" cy="499.5" r="1.4" fill="#f01ee0"/>
<circle cx="526.8" cy="496.4" r="1.4" fill="#f01ee0"/>
<circle cx="526.1" cy="476.7" r="1.4" fill="#f01ee0"/>
<circle cx="547.4" cy="494.5" r="1.4" fill="#f01ee0"/>
<circle cx="530.2" cy="489.2" r="1.4" fill="#f01ee0"/>
<circle cx="560.7" cy="485.0" r="1.4" fill="#f01ee0"/>
<circle cx="575.1" cy="476.6" r="1.4" fill="#f01ee0"/>
<circle cx="576.2" cy="491.9" r="1.4" fill="#f01ee0"/>
<circle cx="582.2" cy="477.9" r="1.4" fill="#f01ee0"/>
<circle cx="552.7" cy="486.9" r="1.4" fill="#f01ee0"/>
<circle cx="585.6" cy="502.1" r="1.4" fill="#f01ee0"/>
<circle cx="520.7" cy="476.3" r="1.4" fill="#f01ee0"/>
<circle cx="567.2" cy="502.8" r="1.4" fill="#f01ee0"/>
<circle cx="552.4" cy="494.6" r="1.4" fill="#f01ee0"/>
<circle cx="548.2" cy="488.4" r="1.4" fill="#f01ee0"/>
<circle cx="590.7" cy="489.2" r="1.4" fill="#f01ee0"/>
<circle cx="566.9" cy="466.9" r="1.4" fill="#f01ee0"/>
<circle cx="528.5" cy="472.0" r="1.4" fill="#f01ee0"/>
<circle cx="530.6" cy="483.8" r="1.4" fill="#f01ee0"/>
<circle cx="577.4" cy="464.7" r="1.4" fill="#f01ee0"/>
<circle cx="568.0" cy="483.3" r="1.4" fill="#f01ee0"/>
<circle cx="545.5" cy="470.5" r="1.4" fill="#f01ee0"/>
<circle cx="566.5" cy="496.3" r="1.4" fill="#f01ee0"/>
<line x1="107.4" y1="452.5" x2="594.2" y2="452.5" stroke="#111" stroke-width="1.4" />
<line x1="99" y1="461.2" x2="602.5" y2="461.2" stroke="#111" stroke-width="2.9" />
<line x1="107.4" y1="452" x2="107.4" y2="575.2" stroke="#111" stroke-width="1.6" />
<line x1="594.2" y1="452" x2="594.2" y2="506" stroke="#111" stroke-width="1.4" />
<line x1="107.4" y1="505.6" x2="594.2" y2="505.6" stroke="#111" stroke-width="1.3" />
<line x1="107.4" y1="506.8" x2="594.2" y2="506.8" stroke="#666" stroke-width="0.7" stroke-dasharray="1 2"/>
<line x1="125.3" y1="484.2" x2="594.2" y2="484.2" stroke="#111" stroke-width="1.3" stroke-dasharray="10 2.5"/>
<line x1="125.3" y1="484.2" x2="125.3" y2="505.6" stroke="#111" stroke-width="1.2" stroke-dasharray="6 2.5"/>
<line x1="124.8" y1="505.6" x2="124.8" y2="575.2" stroke="#111" stroke-width="1.5" />
<line x1="142.4" y1="505.6" x2="142.4" y2="575.2" stroke="#111" stroke-width="1.5" />
<line x1="105.6" y1="575.2" x2="144.8" y2="575.2" stroke="#111" stroke-width="2.4" />
<path d="M285.6 461.2V514.2H303.2" fill="none" stroke="#111" stroke-width="2.2"/>
<line x1="303.2" y1="461.2" x2="303.2" y2="514.2" stroke="#111" stroke-width="1.2" />
<path d="M417.2 461.2V514.2H435.2" fill="none" stroke="#111" stroke-width="2.2"/>
<line x1="435.2" y1="461.2" x2="435.2" y2="514.2" stroke="#111" stroke-width="1.2" />
<line x1="285.6" y1="514.2" x2="383.5" y2="568.4" stroke="#111" stroke-width="1.5" />
<line x1="383.5" y1="568.4" x2="388" y2="570" stroke="#111" stroke-width="1.2" />
<line x1="435.2" y1="514.2" x2="430" y2="520" stroke="#111" stroke-width="1.2" />
<line x1="503.9" y1="442.7" x2="593.4" y2="442.7" stroke="#111" stroke-width="2.4" />
<line x1="513.6" y1="442.7" x2="513.6" y2="452.5" stroke="#111" stroke-width="2.2" />
<line x1="585" y1="442.7" x2="585" y2="452.5" stroke="#111" stroke-width="2.2" />
<line x1="188.3" y1="461.2" x2="188.3" y2="486" stroke="#111" stroke-width="2.9" />
<path d="M174.0 475.4L175.9 484.6Q176.10000000000002 487.1 178.8 487.1H197.8Q200.5 487.1 200.70000000000002 484.6L202.60000000000002 475.4" fill="none" stroke="#111" stroke-width="2.3" stroke-linejoin="round"/>
<rect x="178.9" y="487.4" width="18.8" height="4.4" fill="#111"/>
<line x1="180.8" y1="492" x2="180.8" y2="505" stroke="#555" stroke-width="0.8"/>
<line x1="182.9" y1="492" x2="182.9" y2="505" stroke="#555" stroke-width="0.8"/>
<line x1="193.70000000000002" y1="492" x2="193.70000000000002" y2="505" stroke="#555" stroke-width="0.8"/>
<line x1="195.8" y1="492" x2="195.8" y2="505" stroke="#555" stroke-width="0.8"/>
<line x1="180.3" y1="512.6" x2="180.3" y2="518" stroke="#111" stroke-width="1.2" />
<line x1="196.3" y1="512.6" x2="196.3" y2="518" stroke="#111" stroke-width="1.2" />
<polygon points="179.70000000000002,517 196.9,517 203.10000000000002,521.4 203.10000000000002,522.8 173.5,522.8 173.5,521.4" fill="#111"/>
<line x1="183.4" y1="522" x2="183.4" y2="673" stroke="#111" stroke-width="1.7" />
<line x1="193.20000000000002" y1="522" x2="193.20000000000002" y2="673" stroke="#111" stroke-width="1.7" />
<line x1="188.3" y1="488" x2="188.3" y2="680" stroke="#333" stroke-width="0.8" stroke-dasharray="11 2.5 1.5 2.5"/>
<line x1="173.70000000000002" y1="674.3" x2="202.9" y2="674.3" stroke="#111" stroke-width="3" />
<line x1="535.6" y1="461.2" x2="535.6" y2="486" stroke="#111" stroke-width="2.9" />
<path d="M521.3000000000001 475.4L523.2 484.6Q523.4 487.1 526.1 487.1H545.1Q547.8000000000001 487.1 548.0 484.6L549.9 475.4" fill="none" stroke="#111" stroke-width="2.3" stroke-linejoin="round"/>
<rect x="526.2" y="487.4" width="18.8" height="4.4" fill="#111"/>
<line x1="528.1" y1="492" x2="528.1" y2="505" stroke="#555" stroke-width="0.8"/>
<line x1="530.2" y1="492" x2="530.2" y2="505" stroke="#555" stroke-width="0.8"/>
<line x1="541.0" y1="492" x2="541.0" y2="505" stroke="#555" stroke-width="0.8"/>
<line x1="543.1" y1="492" x2="543.1" y2="505" stroke="#555" stroke-width="0.8"/>
<line x1="527.6" y1="512.6" x2="527.6" y2="518" stroke="#111" stroke-width="1.2" />
<line x1="543.6" y1="512.6" x2="543.6" y2="518" stroke="#111" stroke-width="1.2" />
<polygon points="527.0,517 544.2,517 550.4,521.4 550.4,522.8 520.8000000000001,522.8 520.8000000000001,521.4" fill="#111"/>
<line x1="530.7" y1="522" x2="530.7" y2="673" stroke="#111" stroke-width="1.7" />
<line x1="540.5" y1="522" x2="540.5" y2="673" stroke="#111" stroke-width="1.7" />
<line x1="535.6" y1="488" x2="535.6" y2="680" stroke="#333" stroke-width="0.8" stroke-dasharray="11 2.5 1.5 2.5"/>
<line x1="521.0" y1="674.3" x2="550.2" y2="674.3" stroke="#111" stroke-width="3" />
<line x1="193.2" y1="613.9" x2="530.7" y2="613.9" stroke="#111" stroke-width="2.0" />
<line x1="193.2" y1="625.9" x2="530.7" y2="625.9" stroke="#111" stroke-width="1.6" />
<line x1="196" y1="616.6" x2="528" y2="616.6" stroke="#111" stroke-width="0.9" stroke-dasharray="9 3"/>
<path d="M183.4 590.6H193.2L216.4 607.6V613.9" fill="none" stroke="#111" stroke-width="1.3"/>
<path d="M540.5 590.6H530.7L506.4 608.6V613.9" fill="none" stroke="#111" stroke-width="1.3"/>
<path d="M184 628Q184.5 616 190.5 615" fill="none" stroke="#111" stroke-width="0.9"/>
<g transform="translate(423 566.6) rotate(-45)">
<rect x="-46.8" y="-22.2" width="93.6" height="44.6" rx="5.2" fill="#fff" stroke="#111" stroke-width="1.5"/>
<path d="M-30 -22V-27.4H44.5V-22" fill="none" stroke="#111" stroke-width="1.3"/>
<path d="M-28 -24.8H-5M3 -24.8H43.5" fill="none" stroke="#111" stroke-width="2.2"/>
<path d="M-26.5 -22V-11M26.5 -22V-11" stroke="#111" stroke-width="1.2" fill="none"/>
<path d="M-26.5 -11V22M26.5 -11V22" stroke="#111" stroke-width="3" fill="none"/>
<path d="M-26.5 -10H-4M7 -10H26.5" stroke="#111" stroke-width="2.4" fill="none"/>
<path d="M-3.2 -27V-2" stroke="#111" stroke-width="1.6" fill="none"/><path d="M1.2 -27V-4" stroke="#333" stroke-width="0.9" fill="none"/>
<path d="M-5 -17H-24M6 -17H27" stroke="#111" stroke-width="1.6" fill="none"/>
<path d="M-40 0H40" stroke="#555" stroke-width="0.8" fill="none"/>
<path d="M0 -3V17" stroke="#444" stroke-width="0.8" fill="none"/>
<rect x="-1.8" y="21" width="3.6" height="3.2" fill="#111"/>
</g>
<rect x="395" y="615" width="25" height="10.2" fill="#fff"/>
<line x1="193.2" y1="613.9" x2="530.7" y2="613.9" stroke="#111" stroke-width="2.0" />
<line x1="196" y1="616.6" x2="528" y2="616.6" stroke="#111" stroke-width="0.9" stroke-dasharray="9 3"/>
</svg>
</body></html>
